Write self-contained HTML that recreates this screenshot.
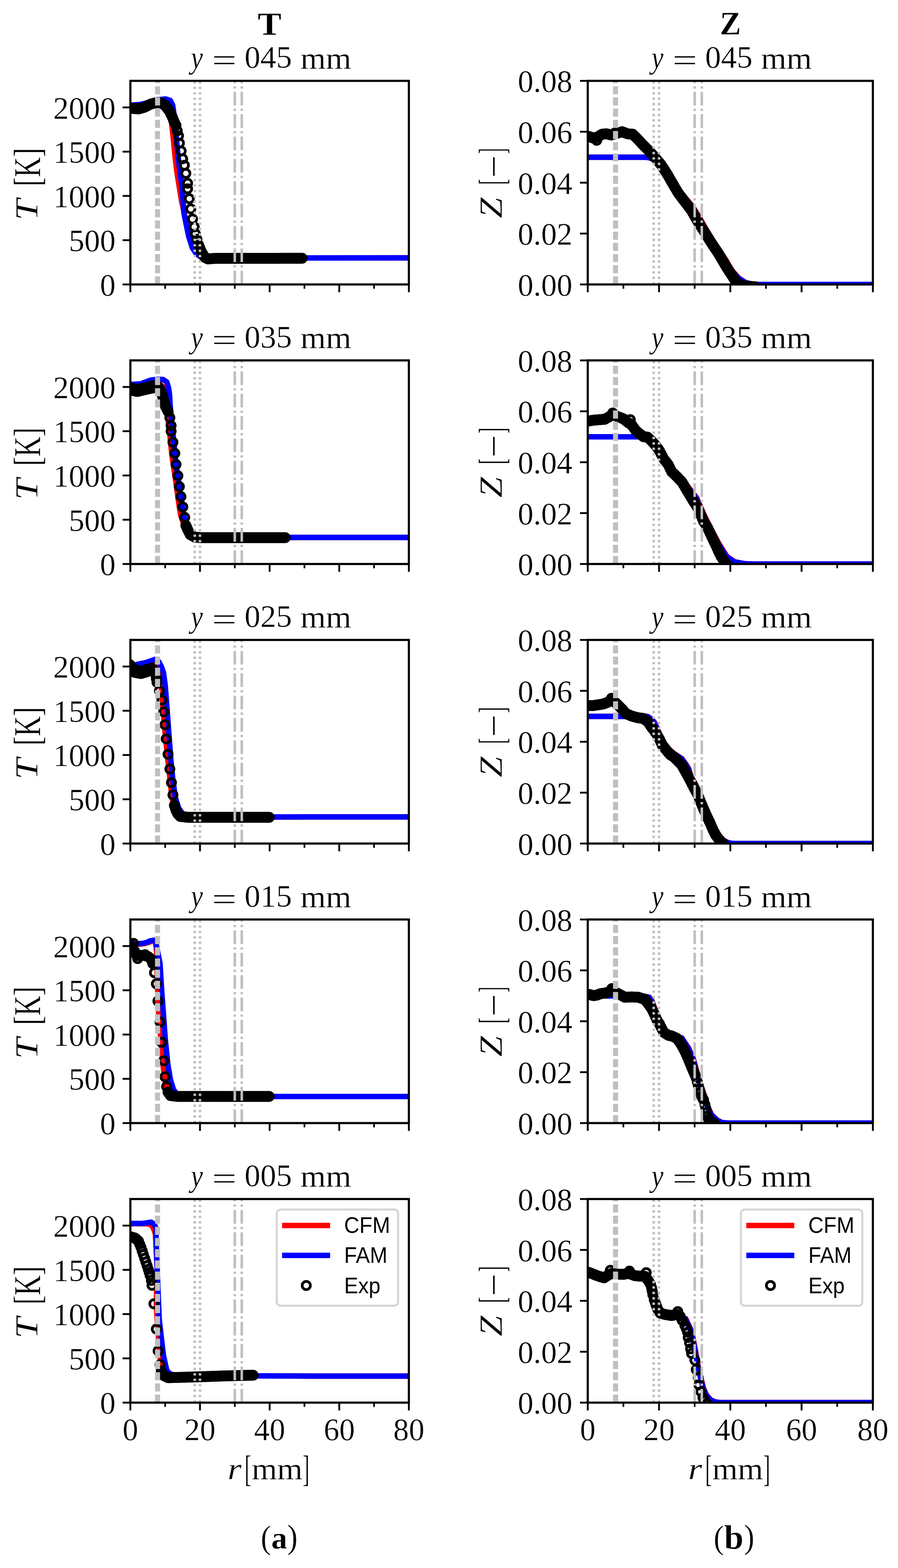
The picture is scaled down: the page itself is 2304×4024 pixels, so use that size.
<!DOCTYPE html><html><head><meta charset="utf-8"><title>T and Z radial profiles</title><style>html,body{margin:0;padding:0;background:#fff;}svg{display:block;}.cm{font-family:"Liberation Serif","DejaVu Serif",serif;stroke:#fff;stroke-width:0.5px;paint-order:fill;}.ss{font-family:"Liberation Sans","DejaVu Sans",sans-serif;}</style></head><body>
<svg width="2304" height="4024" viewBox="0 0 2304 4024">
<rect width="2304" height="4024" fill="#fff"/>
<defs>
<clipPath id="c00"><rect x="334.5" y="207.5" width="714.5" height="522.5"/></clipPath>
<clipPath id="c01"><rect x="334.5" y="924.9" width="714.5" height="522.5000000000001"/></clipPath>
<clipPath id="c02"><rect x="334.5" y="1642.3" width="714.5" height="522.5000000000002"/></clipPath>
<clipPath id="c03"><rect x="334.5" y="2359.7" width="714.5" height="522.5"/></clipPath>
<clipPath id="c04"><rect x="334.5" y="3077.1" width="714.5" height="522.5"/></clipPath>
<clipPath id="c10"><rect x="1508.0" y="207.5" width="731.5" height="522.5"/></clipPath>
<clipPath id="c11"><rect x="1508.0" y="924.9" width="731.5" height="522.5000000000001"/></clipPath>
<clipPath id="c12"><rect x="1508.0" y="1642.3" width="731.5" height="522.5000000000002"/></clipPath>
<clipPath id="c13"><rect x="1508.0" y="2359.7" width="731.5" height="522.5"/></clipPath>
<clipPath id="c14"><rect x="1508.0" y="3077.1" width="731.5" height="522.5"/></clipPath>
</defs>
<g clip-path="url(#c00)">
<path d="M304.5,272 L334.5,272 L380,267 L410,262 L425,265 L432,280 L436,295 L440.5,317.9 L445,359.8 L449.4,404.6 L453.9,441.9 L459.9,479.3 L465.9,516.6 L471.8,542 L478,570 L485,600 L495,630 L510,650 L530,661 L560,662 L1049,661.8 L1079,661.8" fill="none" stroke="#ff0000" stroke-width="14" stroke-linejoin="round" stroke-linecap="butt"/>
<path d="M304.5,270 L334.5,270 L360,268 L385,262 L405,256 L425,254 L437,258 L443,270 L446,290 L449,320 L453,360 L457.4,404.6 L462,441.9 L467,479 L471.8,546.5 L476.3,568.9 L484,606.3 L493.5,636.2 L504,652 L515,659 L530,662 L1049,661.8 L1079,661.8" fill="none" stroke="#0000ff" stroke-width="14" stroke-linejoin="round" stroke-linecap="butt"/>
<g fill="none" stroke="#000" stroke-width="7">
<circle cx="330" cy="277.4" r="10.5"/><circle cx="332.5" cy="277.4" r="10.5"/><circle cx="335.9" cy="277.7" r="10.5"/><circle cx="339.3" cy="278" r="10.5"/><circle cx="342.6" cy="278.4" r="10.5"/><circle cx="345.8" cy="278.7" r="10.5"/><circle cx="349" cy="279" r="10.5"/><circle cx="352.1" cy="279.3" r="10.5"/><circle cx="355.3" cy="279.6" r="10.5"/><circle cx="359.2" cy="278.5" r="10.5"/><circle cx="363.2" cy="277.4" r="10.5"/><circle cx="367.1" cy="276.3" r="10.5"/><circle cx="371.1" cy="275.2" r="10.5"/><circle cx="375" cy="273.1" r="10.5"/><circle cx="379" cy="271.1" r="10.5"/><circle cx="382.9" cy="269" r="10.5"/><circle cx="386.9" cy="267" r="10.5"/><circle cx="390.8" cy="266" r="10.5"/><circle cx="394.8" cy="265.1" r="10.5"/><circle cx="398.7" cy="264.1" r="10.5"/><circle cx="402.7" cy="263.2" r="10.5"/><circle cx="405.8" cy="263.6" r="10.5"/><circle cx="409" cy="264" r="10.5"/><circle cx="412.1" cy="264.4" r="10.5"/><circle cx="415.3" cy="264.8" r="10.5"/><circle cx="418.5" cy="267.2" r="10.5"/><circle cx="421.6" cy="269.6" r="10.5"/><circle cx="424.8" cy="272" r="10.5"/><circle cx="427.9" cy="276.2" r="10.5"/><circle cx="431.1" cy="280.5" r="10.5"/><circle cx="434.3" cy="284.7" r="10.5"/><circle cx="438.2" cy="292.6" r="10.5"/><circle cx="442.2" cy="300.5" r="10.5"/><circle cx="444.8" cy="307.1" r="10.5"/><circle cx="447.5" cy="313.7" r="10.5"/><circle cx="515.6" cy="643.6" r="10.5"/><circle cx="518.6" cy="649.1" r="10.5"/><circle cx="521.6" cy="654.5" r="10.5"/><circle cx="524.6" cy="660" r="10.5"/><circle cx="527.6" cy="661.5" r="10.5"/><circle cx="530.6" cy="663.1" r="10.5"/><circle cx="533.6" cy="664.6" r="10.5"/><circle cx="537.4" cy="664.2" r="10.5"/><circle cx="541.2" cy="663.9" r="10.5"/><circle cx="545" cy="663.5" r="10.5"/><circle cx="548.8" cy="663.4" r="10.5"/><circle cx="552.5" cy="663.2" r="10.5"/><circle cx="556.2" cy="663.1" r="10.5"/><circle cx="560" cy="663" r="10.5"/><circle cx="564" cy="663" r="10.5"/><circle cx="568" cy="663" r="10.5"/><circle cx="571.9" cy="663" r="10.5"/><circle cx="575.9" cy="663" r="10.5"/><circle cx="579.9" cy="663" r="10.5"/><circle cx="583.9" cy="663" r="10.5"/><circle cx="587.9" cy="663" r="10.5"/><circle cx="591.9" cy="663" r="10.5"/><circle cx="595.8" cy="663" r="10.5"/><circle cx="599.8" cy="663" r="10.5"/><circle cx="603.8" cy="663" r="10.5"/><circle cx="607.8" cy="663" r="10.5"/><circle cx="611.8" cy="663" r="10.5"/><circle cx="615.7" cy="662.9" r="10.5"/><circle cx="619.7" cy="662.9" r="10.5"/><circle cx="623.7" cy="662.9" r="10.5"/><circle cx="627.7" cy="662.9" r="10.5"/><circle cx="631.7" cy="662.9" r="10.5"/><circle cx="635.6" cy="662.9" r="10.5"/><circle cx="639.6" cy="662.9" r="10.5"/><circle cx="643.6" cy="662.9" r="10.5"/><circle cx="647.6" cy="662.9" r="10.5"/><circle cx="651.6" cy="662.9" r="10.5"/><circle cx="655.6" cy="662.9" r="10.5"/><circle cx="659.5" cy="662.9" r="10.5"/><circle cx="663.5" cy="662.9" r="10.5"/><circle cx="667.5" cy="662.9" r="10.5"/><circle cx="671.5" cy="662.9" r="10.5"/><circle cx="675.5" cy="662.9" r="10.5"/><circle cx="679.4" cy="662.9" r="10.5"/><circle cx="683.4" cy="662.9" r="10.5"/><circle cx="687.4" cy="662.9" r="10.5"/><circle cx="691.4" cy="662.9" r="10.5"/><circle cx="695.4" cy="662.9" r="10.5"/><circle cx="699.4" cy="662.9" r="10.5"/><circle cx="703.3" cy="662.9" r="10.5"/><circle cx="707.3" cy="662.9" r="10.5"/><circle cx="711.3" cy="662.9" r="10.5"/><circle cx="715.3" cy="662.9" r="10.5"/><circle cx="719.3" cy="662.9" r="10.5"/><circle cx="723.2" cy="662.8" r="10.5"/><circle cx="727.2" cy="662.8" r="10.5"/><circle cx="731.2" cy="662.8" r="10.5"/><circle cx="735.2" cy="662.8" r="10.5"/><circle cx="739.2" cy="662.8" r="10.5"/><circle cx="743.1" cy="662.8" r="10.5"/><circle cx="747.1" cy="662.8" r="10.5"/><circle cx="751.1" cy="662.8" r="10.5"/><circle cx="755.1" cy="662.8" r="10.5"/><circle cx="759.1" cy="662.8" r="10.5"/><circle cx="763.1" cy="662.8" r="10.5"/><circle cx="767" cy="662.8" r="10.5"/><circle cx="771" cy="662.8" r="10.5"/><circle cx="775" cy="662.8" r="10.5"/><circle cx="451.6" cy="321.6" r="10.5"/><circle cx="454.8" cy="335.9" r="10.5"/><circle cx="458" cy="348.5" r="10.5"/><circle cx="460.3" cy="367.2" r="10.5"/><circle cx="464.8" cy="387.4" r="10.5"/><circle cx="468.6" cy="407.6" r="10.5"/><circle cx="473" cy="424" r="10.5"/><circle cx="476.8" cy="444.9" r="10.5"/><circle cx="481.3" cy="470.3" r="10.5"/><circle cx="481.3" cy="484.5" r="10.5"/><circle cx="485.7" cy="509.9" r="10.5"/><circle cx="489.5" cy="536.1" r="10.5"/><circle cx="494" cy="562.2" r="10.5"/><circle cx="498.4" cy="582.4" r="10.5"/><circle cx="501.4" cy="600.3" r="10.5"/><circle cx="505.2" cy="613.8" r="10.5"/><circle cx="509.6" cy="628.7" r="10.5"/><circle cx="512.6" cy="636.2" r="10.5"/>
</g>
<line x1="404.2" y1="730" x2="404.2" y2="207.5" stroke="#bfbfbf" stroke-width="13" stroke-dasharray="20.7 8"/>
<line x1="499.7" y1="730" x2="499.7" y2="207.5" stroke="#bfbfbf" stroke-width="6.5" stroke-dasharray="6 7.93"/>
<line x1="513.1" y1="730" x2="513.1" y2="207.5" stroke="#bfbfbf" stroke-width="6.5" stroke-dasharray="6 7.93"/>
<line x1="602.4" y1="730" x2="602.4" y2="207.5" stroke="#bfbfbf" stroke-width="6.5" stroke-dasharray="35.2 8.2 5.8 8.2"/>
<line x1="620.3" y1="730" x2="620.3" y2="207.5" stroke="#bfbfbf" stroke-width="6.5" stroke-dasharray="35.2 8.2 5.8 8.2"/>
</g>
<rect x="334.5" y="207.5" width="714.5" height="522.5" fill="none" stroke="#000" stroke-width="5.5"/>
<line x1="334.5" y1="730.0" x2="334.5" y2="750.0" stroke="#000" stroke-width="4.7"/><line x1="423.8" y1="730.0" x2="423.8" y2="741.0" stroke="#000" stroke-width="4.3"/><line x1="513.1" y1="730.0" x2="513.1" y2="750.0" stroke="#000" stroke-width="4.7"/><line x1="602.4" y1="730.0" x2="602.4" y2="741.0" stroke="#000" stroke-width="4.3"/><line x1="691.8" y1="730.0" x2="691.8" y2="750.0" stroke="#000" stroke-width="4.7"/><line x1="781.1" y1="730.0" x2="781.1" y2="741.0" stroke="#000" stroke-width="4.3"/><line x1="870.4" y1="730.0" x2="870.4" y2="750.0" stroke="#000" stroke-width="4.7"/><line x1="959.7" y1="730.0" x2="959.7" y2="741.0" stroke="#000" stroke-width="4.3"/><line x1="1049" y1="730.0" x2="1049" y2="750.0" stroke="#000" stroke-width="4.7"/><line x1="334.5" y1="730" x2="314.5" y2="730" stroke="#000" stroke-width="4.7"/><line x1="334.5" y1="616.4" x2="314.5" y2="616.4" stroke="#000" stroke-width="4.7"/><line x1="334.5" y1="502.8" x2="314.5" y2="502.8" stroke="#000" stroke-width="4.7"/><line x1="334.5" y1="389.2" x2="314.5" y2="389.2" stroke="#000" stroke-width="4.7"/><line x1="334.5" y1="275.7" x2="314.5" y2="275.7" stroke="#000" stroke-width="4.7"/>
<g class="cm" font-size="80"><text x="296.5" y="758.8" text-anchor="end">0</text><text x="296.5" y="645.2" text-anchor="end">500</text><text x="296.5" y="531.6" text-anchor="end">1000</text><text x="296.5" y="418" text-anchor="end">1500</text><text x="296.5" y="304.5" text-anchor="end">2000</text></g>
<text class="cm" font-size="80" font-style="italic" transform="translate(489.75,175.294) scale(0.864,0.994)">y</text>
<text class="cm" font-size="80"  transform="translate(543.435,182.38) scale(1.416,1.04)">=</text>
<text class="cm" font-size="80"  transform="translate(627.563,174.493) scale(1.012,1.007)">045</text>
<text class="cm" font-size="80"  transform="translate(770.701,175.5) scale(1.05,0.974)">mm</text>
<text class="cm" font-size="80" font-style="italic" transform="translate(95.8,559.7) rotate(-90) translate(-6.125,0) scale(1.225,1.028)">T</text>
<text class="cm" font-size="80"  transform="translate(95.8,559.7) rotate(-90) translate(81.367,6.95) scale(0.889,1.205)">[K]</text>
<g clip-path="url(#c01)">
<path d="M304.5,989 L330,989 L377.4,984.9 L405.8,981.8 L418.5,992.8 L424.1,1011.8 L427.9,1043.4 L431.1,1075 L434.9,1106.6 L441.2,1169.7 L450.7,1232.9 L457,1280.3 L463.3,1321.4 L469.6,1340.4 L481.6,1362.5 L500.6,1376.7 L519.6,1379.8 L791.3,1379.2 L1079,1379.2" fill="none" stroke="#ff0000" stroke-width="14" stroke-linejoin="round" stroke-linecap="butt"/>
<path d="M304.5,987.1 L330,987.1 L361.6,984.9 L386.9,975.4 L405.8,973.2 L418.5,973.9 L427.9,980.2 L432.7,996 L434.9,1011.8 L436.8,1043.4 L439.9,1075 L443.1,1106.6 L446.3,1138.2 L449.4,1169.7 L453.2,1201.3 L458,1232.9 L462.7,1264.5 L467.4,1296.1 L472.2,1324.6 L478.5,1349.8 L488,1368.8 L500.6,1378.3 L519.6,1379.8 L791.3,1379.2 L1079,1379.2" fill="none" stroke="#0000ff" stroke-width="14" stroke-linejoin="round" stroke-linecap="butt"/>
<g fill="none" stroke="#000" stroke-width="7">
<circle cx="330" cy="997.6" r="10.5"/><circle cx="332.5" cy="997.6" r="10.5"/><circle cx="336.4" cy="998.5" r="10.5"/><circle cx="340.4" cy="999.5" r="10.5"/><circle cx="344.3" cy="1000.4" r="10.5"/><circle cx="348.2" cy="1001.4" r="10.5"/><circle cx="352.1" cy="1002.3" r="10.5"/><circle cx="355.9" cy="1001.4" r="10.5"/><circle cx="359.7" cy="1000.4" r="10.5"/><circle cx="363.5" cy="999.5" r="10.5"/><circle cx="367.3" cy="998.5" r="10.5"/><circle cx="371.1" cy="997.6" r="10.5"/><circle cx="374.8" cy="996.8" r="10.5"/><circle cx="378.4" cy="996" r="10.5"/><circle cx="382.1" cy="995.2" r="10.5"/><circle cx="385.8" cy="994.4" r="10.5"/><circle cx="389.5" cy="993.6" r="10.5"/><circle cx="393.2" cy="992.8" r="10.5"/><circle cx="396.9" cy="992.3" r="10.5"/><circle cx="400.6" cy="991.8" r="10.5"/><circle cx="404.2" cy="991.2" r="10.5"/><circle cx="407.4" cy="995.2" r="10.5"/><circle cx="410.6" cy="999.1" r="10.5"/><circle cx="412.9" cy="1005.5" r="10.5"/><circle cx="415.3" cy="1011.8" r="10.5"/><circle cx="417.7" cy="1019.7" r="10.5"/><circle cx="420" cy="1027.6" r="10.5"/><circle cx="422.4" cy="1035.5" r="10.5"/><circle cx="424.8" cy="1043.4" r="10.5"/><circle cx="427.9" cy="1049.7" r="10.5"/><circle cx="431.1" cy="1056" r="10.5"/><circle cx="330" cy="995.1" r="10.5"/><circle cx="332.5" cy="995.1" r="10.5"/><circle cx="336.4" cy="996" r="10.5"/><circle cx="340.4" cy="997" r="10.5"/><circle cx="344.3" cy="997.9" r="10.5"/><circle cx="348.2" cy="998.9" r="10.5"/><circle cx="352.1" cy="999.8" r="10.5"/><circle cx="355.9" cy="998.9" r="10.5"/><circle cx="359.7" cy="997.9" r="10.5"/><circle cx="363.5" cy="997" r="10.5"/><circle cx="367.3" cy="996" r="10.5"/><circle cx="371.1" cy="995.1" r="10.5"/><circle cx="374.8" cy="994.3" r="10.5"/><circle cx="378.4" cy="993.5" r="10.5"/><circle cx="382.1" cy="992.7" r="10.5"/><circle cx="385.8" cy="991.9" r="10.5"/><circle cx="389.5" cy="991.1" r="10.5"/><circle cx="393.2" cy="990.3" r="10.5"/><circle cx="396.9" cy="989.8" r="10.5"/><circle cx="330" cy="1000.1" r="10.5"/><circle cx="332.5" cy="1000.1" r="10.5"/><circle cx="336.4" cy="1001" r="10.5"/><circle cx="340.4" cy="1002" r="10.5"/><circle cx="344.3" cy="1002.9" r="10.5"/><circle cx="348.2" cy="1003.9" r="10.5"/><circle cx="352.1" cy="1004.8" r="10.5"/><circle cx="355.9" cy="1003.9" r="10.5"/><circle cx="359.7" cy="1002.9" r="10.5"/><circle cx="363.5" cy="1002" r="10.5"/><circle cx="367.3" cy="1001" r="10.5"/><circle cx="371.1" cy="1000.1" r="10.5"/><circle cx="374.8" cy="999.3" r="10.5"/><circle cx="378.4" cy="998.5" r="10.5"/><circle cx="382.1" cy="997.7" r="10.5"/><circle cx="385.8" cy="996.9" r="10.5"/><circle cx="389.5" cy="996.1" r="10.5"/><circle cx="393.2" cy="995.3" r="10.5"/><circle cx="396.9" cy="994.8" r="10.5"/><circle cx="476.9" cy="1348.2" r="10.5"/><circle cx="479.3" cy="1353.8" r="10.5"/><circle cx="481.6" cy="1359.3" r="10.5"/><circle cx="484.8" cy="1365.6" r="10.5"/><circle cx="488" cy="1371.9" r="10.5"/><circle cx="491.1" cy="1373.7" r="10.5"/><circle cx="494.3" cy="1375.4" r="10.5"/><circle cx="497.4" cy="1377.2" r="10.5"/><circle cx="500.6" cy="1378.9" r="10.5"/><circle cx="504.4" cy="1379.1" r="10.5"/><circle cx="508.2" cy="1379.3" r="10.5"/><circle cx="512" cy="1379.5" r="10.5"/><circle cx="515.8" cy="1379.7" r="10.5"/><circle cx="519.6" cy="1379.8" r="10.5"/><circle cx="523.6" cy="1379.8" r="10.5"/><circle cx="527.6" cy="1379.8" r="10.5"/><circle cx="531.6" cy="1379.8" r="10.5"/><circle cx="535.6" cy="1379.8" r="10.5"/><circle cx="539.6" cy="1379.8" r="10.5"/><circle cx="543.6" cy="1379.8" r="10.5"/><circle cx="547.6" cy="1379.8" r="10.5"/><circle cx="551.6" cy="1379.8" r="10.5"/><circle cx="555.6" cy="1379.8" r="10.5"/><circle cx="559.6" cy="1379.8" r="10.5"/><circle cx="563.6" cy="1379.8" r="10.5"/><circle cx="567.6" cy="1379.8" r="10.5"/><circle cx="571.6" cy="1379.8" r="10.5"/><circle cx="575.6" cy="1379.8" r="10.5"/><circle cx="579.6" cy="1379.8" r="10.5"/><circle cx="583.6" cy="1379.8" r="10.5"/><circle cx="587.6" cy="1379.8" r="10.5"/><circle cx="591.6" cy="1379.8" r="10.5"/><circle cx="595.6" cy="1379.8" r="10.5"/><circle cx="599.6" cy="1379.8" r="10.5"/><circle cx="603.6" cy="1379.8" r="10.5"/><circle cx="607.6" cy="1379.8" r="10.5"/><circle cx="611.6" cy="1379.8" r="10.5"/><circle cx="615.6" cy="1379.8" r="10.5"/><circle cx="619.6" cy="1379.8" r="10.5"/><circle cx="623.6" cy="1379.8" r="10.5"/><circle cx="627.6" cy="1379.8" r="10.5"/><circle cx="631.6" cy="1379.8" r="10.5"/><circle cx="635.6" cy="1379.8" r="10.5"/><circle cx="639.6" cy="1379.8" r="10.5"/><circle cx="643.6" cy="1379.8" r="10.5"/><circle cx="647.6" cy="1379.8" r="10.5"/><circle cx="651.6" cy="1379.8" r="10.5"/><circle cx="655.6" cy="1379.8" r="10.5"/><circle cx="659.6" cy="1379.8" r="10.5"/><circle cx="663.6" cy="1379.8" r="10.5"/><circle cx="667.6" cy="1379.8" r="10.5"/><circle cx="671.6" cy="1379.8" r="10.5"/><circle cx="675.6" cy="1379.8" r="10.5"/><circle cx="679.6" cy="1379.8" r="10.5"/><circle cx="683.6" cy="1379.8" r="10.5"/><circle cx="687.6" cy="1379.8" r="10.5"/><circle cx="691.6" cy="1379.8" r="10.5"/><circle cx="695.6" cy="1379.8" r="10.5"/><circle cx="699.6" cy="1379.8" r="10.5"/><circle cx="703.6" cy="1379.8" r="10.5"/><circle cx="707.6" cy="1379.8" r="10.5"/><circle cx="711.6" cy="1379.8" r="10.5"/><circle cx="715.6" cy="1379.8" r="10.5"/><circle cx="719.6" cy="1379.8" r="10.5"/><circle cx="723.6" cy="1379.8" r="10.5"/><circle cx="727.6" cy="1379.8" r="10.5"/><circle cx="731.6" cy="1379.8" r="10.5"/><circle cx="435.8" cy="1071.8" r="10.5"/><circle cx="439" cy="1092.3" r="10.5"/><circle cx="439" cy="1106.6" r="10.5"/><circle cx="443.7" cy="1135" r="10.5"/><circle cx="448.5" cy="1163.4" r="10.5"/><circle cx="451.6" cy="1191.9" r="10.5"/><circle cx="456.4" cy="1220.9" r="10.5"/><circle cx="460.2" cy="1248.7" r="10.5"/><circle cx="464.3" cy="1274.6" r="10.5"/><circle cx="469" cy="1300.9" r="10.5"/><circle cx="473.8" cy="1327.7" r="10.5"/>
</g>
<line x1="404.2" y1="1447.4" x2="404.2" y2="924.9" stroke="#bfbfbf" stroke-width="13" stroke-dasharray="20.7 8"/>
<line x1="499.7" y1="1447.4" x2="499.7" y2="924.9" stroke="#bfbfbf" stroke-width="6.5" stroke-dasharray="6 7.93"/>
<line x1="513.1" y1="1447.4" x2="513.1" y2="924.9" stroke="#bfbfbf" stroke-width="6.5" stroke-dasharray="6 7.93"/>
<line x1="602.4" y1="1447.4" x2="602.4" y2="924.9" stroke="#bfbfbf" stroke-width="6.5" stroke-dasharray="35.2 8.2 5.8 8.2"/>
<line x1="620.3" y1="1447.4" x2="620.3" y2="924.9" stroke="#bfbfbf" stroke-width="6.5" stroke-dasharray="35.2 8.2 5.8 8.2"/>
</g>
<rect x="334.5" y="924.9" width="714.5" height="522.5000000000001" fill="none" stroke="#000" stroke-width="5.5"/>
<line x1="334.5" y1="1447.4" x2="334.5" y2="1467.4" stroke="#000" stroke-width="4.7"/><line x1="423.8" y1="1447.4" x2="423.8" y2="1458.4" stroke="#000" stroke-width="4.3"/><line x1="513.1" y1="1447.4" x2="513.1" y2="1467.4" stroke="#000" stroke-width="4.7"/><line x1="602.4" y1="1447.4" x2="602.4" y2="1458.4" stroke="#000" stroke-width="4.3"/><line x1="691.8" y1="1447.4" x2="691.8" y2="1467.4" stroke="#000" stroke-width="4.7"/><line x1="781.1" y1="1447.4" x2="781.1" y2="1458.4" stroke="#000" stroke-width="4.3"/><line x1="870.4" y1="1447.4" x2="870.4" y2="1467.4" stroke="#000" stroke-width="4.7"/><line x1="959.7" y1="1447.4" x2="959.7" y2="1458.4" stroke="#000" stroke-width="4.3"/><line x1="1049" y1="1447.4" x2="1049" y2="1467.4" stroke="#000" stroke-width="4.7"/><line x1="334.5" y1="1447.4" x2="314.5" y2="1447.4" stroke="#000" stroke-width="4.7"/><line x1="334.5" y1="1333.8" x2="314.5" y2="1333.8" stroke="#000" stroke-width="4.7"/><line x1="334.5" y1="1220.2" x2="314.5" y2="1220.2" stroke="#000" stroke-width="4.7"/><line x1="334.5" y1="1106.6" x2="314.5" y2="1106.6" stroke="#000" stroke-width="4.7"/><line x1="334.5" y1="993.1" x2="314.5" y2="993.1" stroke="#000" stroke-width="4.7"/>
<g class="cm" font-size="80"><text x="296.5" y="1476.2" text-anchor="end">0</text><text x="296.5" y="1362.6" text-anchor="end">500</text><text x="296.5" y="1249" text-anchor="end">1000</text><text x="296.5" y="1135.4" text-anchor="end">1500</text><text x="296.5" y="1021.9" text-anchor="end">2000</text></g>
<text class="cm" font-size="80" font-style="italic" transform="translate(489.75,892.694) scale(0.864,0.994)">y</text>
<text class="cm" font-size="80"  transform="translate(543.435,899.78) scale(1.416,1.04)">=</text>
<text class="cm" font-size="80"  transform="translate(627.563,891.893) scale(1.012,1.007)">035</text>
<text class="cm" font-size="80"  transform="translate(770.701,892.9) scale(1.05,0.974)">mm</text>
<text class="cm" font-size="80" font-style="italic" transform="translate(95.8,1277.1) rotate(-90) translate(-6.125,0) scale(1.225,1.028)">T</text>
<text class="cm" font-size="80"  transform="translate(95.8,1277.1) rotate(-90) translate(81.367,6.95) scale(0.889,1.205)">[K]</text>
<g clip-path="url(#c02)">
<path d="M304.5,1709.8 L330,1709.8 L361.6,1708.2 L393.2,1701.9 L405.8,1703.5 L410.6,1728.8 L412.8,1760.4 L415.9,1792 L418.5,1823.6 L421.6,1855.2 L424.1,1886.7 L427.3,1918.3 L430.5,1949.9 L434.3,1981.5 L437.4,2013.1 L441.2,2044.7 L445.3,2066.8 L453.2,2085.8 L465.9,2095.3 L481.6,2097.5 L791.3,2096.6 L1079,2096.6" fill="none" stroke="#ff0000" stroke-width="14" stroke-linejoin="round" stroke-linecap="butt"/>
<path d="M304.5,1706 L330,1706 L349,1705.7 L374.2,1700.3 L399.5,1691.5 L406.8,1697.2 L413.7,1709.8 L419.4,1725.6 L424.1,1760.4 L428.9,1823.6 L433.6,1886.7 L438.4,1949.9 L443.1,1997.3 L449.4,2044.7 L458,2073.1 L469,2088.9 L481.6,2095.3 L494.3,2096.8 L791.3,2096.6 L1079,2096.6" fill="none" stroke="#0000ff" stroke-width="14" stroke-linejoin="round" stroke-linecap="butt"/>
<g fill="none" stroke="#000" stroke-width="7">
<circle cx="330" cy="1708.2" r="10.5"/><circle cx="332.5" cy="1708.2" r="10.5"/><circle cx="335.8" cy="1711.8" r="10.5"/><circle cx="339.2" cy="1715.4" r="10.5"/><circle cx="342.5" cy="1718.9" r="10.5"/><circle cx="345.8" cy="1722.5" r="10.5"/><circle cx="349.7" cy="1723.3" r="10.5"/><circle cx="353.7" cy="1724" r="10.5"/><circle cx="357.6" cy="1724.8" r="10.5"/><circle cx="361.6" cy="1725.6" r="10.5"/><circle cx="365.5" cy="1724.4" r="10.5"/><circle cx="369.5" cy="1723.3" r="10.5"/><circle cx="373.4" cy="1722.1" r="10.5"/><circle cx="377.4" cy="1720.9" r="10.5"/><circle cx="380.5" cy="1719.3" r="10.5"/><circle cx="383.7" cy="1717.7" r="10.5"/><circle cx="386.9" cy="1716.1" r="10.5"/><circle cx="390" cy="1714.6" r="10.5"/><circle cx="392.4" cy="1717.7" r="10.5"/><circle cx="394.8" cy="1720.9" r="10.5"/><circle cx="397.9" cy="1728.8" r="10.5"/><circle cx="401.1" cy="1741.4" r="10.5"/><circle cx="330" cy="1705.2" r="10.5"/><circle cx="332.5" cy="1705.2" r="10.5"/><circle cx="335.8" cy="1708.8" r="10.5"/><circle cx="339.2" cy="1712.4" r="10.5"/><circle cx="342.5" cy="1715.9" r="10.5"/><circle cx="345.8" cy="1719.5" r="10.5"/><circle cx="349.7" cy="1720.3" r="10.5"/><circle cx="353.7" cy="1721" r="10.5"/><circle cx="357.6" cy="1721.8" r="10.5"/><circle cx="361.6" cy="1722.6" r="10.5"/><circle cx="365.5" cy="1721.4" r="10.5"/><circle cx="369.5" cy="1720.3" r="10.5"/><circle cx="373.4" cy="1719.1" r="10.5"/><circle cx="377.4" cy="1717.9" r="10.5"/><circle cx="330" cy="1711.2" r="10.5"/><circle cx="332.5" cy="1711.2" r="10.5"/><circle cx="335.8" cy="1714.8" r="10.5"/><circle cx="339.2" cy="1718.4" r="10.5"/><circle cx="342.5" cy="1721.9" r="10.5"/><circle cx="345.8" cy="1725.5" r="10.5"/><circle cx="349.7" cy="1726.3" r="10.5"/><circle cx="353.7" cy="1727" r="10.5"/><circle cx="357.6" cy="1727.8" r="10.5"/><circle cx="361.6" cy="1728.6" r="10.5"/><circle cx="365.5" cy="1727.4" r="10.5"/><circle cx="369.5" cy="1726.3" r="10.5"/><circle cx="373.4" cy="1725.1" r="10.5"/><circle cx="377.4" cy="1723.9" r="10.5"/><circle cx="447.5" cy="2066.8" r="10.5"/><circle cx="449.6" cy="2073.1" r="10.5"/><circle cx="451.6" cy="2079.5" r="10.5"/><circle cx="454" cy="2084.2" r="10.5"/><circle cx="456.4" cy="2088.9" r="10.5"/><circle cx="459.5" cy="2092.1" r="10.5"/><circle cx="462.7" cy="2095.3" r="10.5"/><circle cx="466.5" cy="2095.7" r="10.5"/><circle cx="470.3" cy="2096.1" r="10.5"/><circle cx="474.1" cy="2096.6" r="10.5"/><circle cx="477.9" cy="2097" r="10.5"/><circle cx="481.6" cy="2097.5" r="10.5"/><circle cx="485.6" cy="2097.5" r="10.5"/><circle cx="489.5" cy="2097.5" r="10.5"/><circle cx="493.5" cy="2097.5" r="10.5"/><circle cx="497.4" cy="2097.5" r="10.5"/><circle cx="501.3" cy="2097.5" r="10.5"/><circle cx="505.3" cy="2097.5" r="10.5"/><circle cx="509.2" cy="2097.5" r="10.5"/><circle cx="513.2" cy="2097.5" r="10.5"/><circle cx="517.1" cy="2097.5" r="10.5"/><circle cx="521.1" cy="2097.5" r="10.5"/><circle cx="525" cy="2097.5" r="10.5"/><circle cx="528.9" cy="2097.5" r="10.5"/><circle cx="532.9" cy="2097.5" r="10.5"/><circle cx="536.8" cy="2097.5" r="10.5"/><circle cx="540.8" cy="2097.5" r="10.5"/><circle cx="544.7" cy="2097.5" r="10.5"/><circle cx="548.6" cy="2097.5" r="10.5"/><circle cx="552.6" cy="2097.5" r="10.5"/><circle cx="556.5" cy="2097.5" r="10.5"/><circle cx="560.5" cy="2097.5" r="10.5"/><circle cx="564.4" cy="2097.5" r="10.5"/><circle cx="568.3" cy="2097.5" r="10.5"/><circle cx="572.3" cy="2097.5" r="10.5"/><circle cx="576.2" cy="2097.5" r="10.5"/><circle cx="580.2" cy="2097.5" r="10.5"/><circle cx="584.1" cy="2097.5" r="10.5"/><circle cx="588" cy="2097.5" r="10.5"/><circle cx="592" cy="2097.5" r="10.5"/><circle cx="595.9" cy="2097.5" r="10.5"/><circle cx="599.9" cy="2097.5" r="10.5"/><circle cx="603.8" cy="2097.5" r="10.5"/><circle cx="607.7" cy="2097.5" r="10.5"/><circle cx="611.7" cy="2097.5" r="10.5"/><circle cx="615.6" cy="2097.5" r="10.5"/><circle cx="619.6" cy="2097.5" r="10.5"/><circle cx="623.5" cy="2097.5" r="10.5"/><circle cx="627.4" cy="2097.5" r="10.5"/><circle cx="631.4" cy="2097.5" r="10.5"/><circle cx="635.3" cy="2097.5" r="10.5"/><circle cx="639.3" cy="2097.5" r="10.5"/><circle cx="643.2" cy="2097.5" r="10.5"/><circle cx="647.1" cy="2097.5" r="10.5"/><circle cx="651.1" cy="2097.5" r="10.5"/><circle cx="655" cy="2097.5" r="10.5"/><circle cx="659" cy="2097.5" r="10.5"/><circle cx="662.9" cy="2097.5" r="10.5"/><circle cx="666.8" cy="2097.5" r="10.5"/><circle cx="670.8" cy="2097.5" r="10.5"/><circle cx="674.7" cy="2097.5" r="10.5"/><circle cx="678.7" cy="2097.5" r="10.5"/><circle cx="682.6" cy="2097.5" r="10.5"/><circle cx="686.5" cy="2097.5" r="10.5"/><circle cx="690.5" cy="2097.5" r="10.5"/><circle cx="402.7" cy="1750.9" r="10.5"/><circle cx="409" cy="1773" r="10.5"/><circle cx="415.3" cy="1796.7" r="10.5"/><circle cx="420" cy="1826.7" r="10.5"/><circle cx="423.2" cy="1859.9" r="10.5"/><circle cx="426.4" cy="1896.2" r="10.5"/><circle cx="431.1" cy="1935.7" r="10.5"/><circle cx="435.8" cy="1973.6" r="10.5"/><circle cx="439.9" cy="2008.4" r="10.5"/><circle cx="443.7" cy="2040" r="10.5"/>
</g>
<line x1="404.2" y1="2164.8" x2="404.2" y2="1642.3" stroke="#bfbfbf" stroke-width="13" stroke-dasharray="20.7 8"/>
<line x1="499.7" y1="2164.8" x2="499.7" y2="1642.3" stroke="#bfbfbf" stroke-width="6.5" stroke-dasharray="6 7.93"/>
<line x1="513.1" y1="2164.8" x2="513.1" y2="1642.3" stroke="#bfbfbf" stroke-width="6.5" stroke-dasharray="6 7.93"/>
<line x1="602.4" y1="2164.8" x2="602.4" y2="1642.3" stroke="#bfbfbf" stroke-width="6.5" stroke-dasharray="35.2 8.2 5.8 8.2"/>
<line x1="620.3" y1="2164.8" x2="620.3" y2="1642.3" stroke="#bfbfbf" stroke-width="6.5" stroke-dasharray="35.2 8.2 5.8 8.2"/>
</g>
<rect x="334.5" y="1642.3" width="714.5" height="522.5000000000002" fill="none" stroke="#000" stroke-width="5.5"/>
<line x1="334.5" y1="2164.8" x2="334.5" y2="2184.8" stroke="#000" stroke-width="4.7"/><line x1="423.8" y1="2164.8" x2="423.8" y2="2175.8" stroke="#000" stroke-width="4.3"/><line x1="513.1" y1="2164.8" x2="513.1" y2="2184.8" stroke="#000" stroke-width="4.7"/><line x1="602.4" y1="2164.8" x2="602.4" y2="2175.8" stroke="#000" stroke-width="4.3"/><line x1="691.8" y1="2164.8" x2="691.8" y2="2184.8" stroke="#000" stroke-width="4.7"/><line x1="781.1" y1="2164.8" x2="781.1" y2="2175.8" stroke="#000" stroke-width="4.3"/><line x1="870.4" y1="2164.8" x2="870.4" y2="2184.8" stroke="#000" stroke-width="4.7"/><line x1="959.7" y1="2164.8" x2="959.7" y2="2175.8" stroke="#000" stroke-width="4.3"/><line x1="1049" y1="2164.8" x2="1049" y2="2184.8" stroke="#000" stroke-width="4.7"/><line x1="334.5" y1="2164.8" x2="314.5" y2="2164.8" stroke="#000" stroke-width="4.7"/><line x1="334.5" y1="2051.2" x2="314.5" y2="2051.2" stroke="#000" stroke-width="4.7"/><line x1="334.5" y1="1937.6" x2="314.5" y2="1937.6" stroke="#000" stroke-width="4.7"/><line x1="334.5" y1="1824" x2="314.5" y2="1824" stroke="#000" stroke-width="4.7"/><line x1="334.5" y1="1710.5" x2="314.5" y2="1710.5" stroke="#000" stroke-width="4.7"/>
<g class="cm" font-size="80"><text x="296.5" y="2193.6" text-anchor="end">0</text><text x="296.5" y="2080" text-anchor="end">500</text><text x="296.5" y="1966.4" text-anchor="end">1000</text><text x="296.5" y="1852.8" text-anchor="end">1500</text><text x="296.5" y="1739.3" text-anchor="end">2000</text></g>
<text class="cm" font-size="80" font-style="italic" transform="translate(489.75,1610.094) scale(0.864,0.994)">y</text>
<text class="cm" font-size="80"  transform="translate(543.435,1617.18) scale(1.416,1.04)">=</text>
<text class="cm" font-size="80"  transform="translate(627.563,1609.293) scale(1.012,1.007)">025</text>
<text class="cm" font-size="80"  transform="translate(770.701,1610.3) scale(1.05,0.974)">mm</text>
<text class="cm" font-size="80" font-style="italic" transform="translate(95.8,1994.5) rotate(-90) translate(-6.125,0) scale(1.225,1.028)">T</text>
<text class="cm" font-size="80"  transform="translate(95.8,1994.5) rotate(-90) translate(81.367,6.95) scale(0.889,1.205)">[K]</text>
<g clip-path="url(#c03)">
<path d="M304.5,2423.5 L330,2423.5 L360.9,2422.7 L371.2,2421.6 L381.5,2418.5 L391.8,2414.5 L398.5,2414 L400.9,2433.3 L402.5,2450.8 L403,2480 L403.5,2510 L404.5,2540.6 L407.4,2603.7 L412.8,2666.9 L417.8,2730.1 L424.8,2783.8 L434.3,2802.8 L450.1,2812.3 L462.7,2813.8 L791.3,2814 L1079,2814" fill="none" stroke="#ff0000" stroke-width="14" stroke-linejoin="round" stroke-linecap="butt"/>
<path d="M304.5,2422.5 L330,2422.5 L349.6,2422.2 L366,2421 L376.4,2418.6 L385.6,2414.5 L395,2413 L399,2416 L401,2424 L404.4,2441.5 L410.6,2472.4 L414.7,2540 L419.4,2603.7 L424.1,2666.9 L430.5,2730.1 L437.4,2771.2 L445.3,2796.5 L456.4,2810.7 L469,2813.8 L791.3,2814 L1079,2814" fill="none" stroke="#0000ff" stroke-width="14" stroke-linejoin="round" stroke-linecap="butt"/>
<g fill="none" stroke="#000" stroke-width="7">
<circle cx="330" cy="2422.1" r="10.5"/><circle cx="332.5" cy="2422.1" r="10.5"/><circle cx="336" cy="2427.6" r="10.5"/><circle cx="339.5" cy="2433.1" r="10.5"/><circle cx="342.6" cy="2439.5" r="10.5"/><circle cx="345.8" cy="2445.8" r="10.5"/><circle cx="349" cy="2448.9" r="10.5"/><circle cx="352.1" cy="2452.1" r="10.5"/><circle cx="355.3" cy="2452.1" r="10.5"/><circle cx="358.4" cy="2452.1" r="10.5"/><circle cx="361.6" cy="2452.1" r="10.5"/><circle cx="364.8" cy="2451.9" r="10.5"/><circle cx="367.9" cy="2451.7" r="10.5"/><circle cx="371.1" cy="2451.5" r="10.5"/><circle cx="374.2" cy="2452.7" r="10.5"/><circle cx="377.4" cy="2454" r="10.5"/><circle cx="380.5" cy="2455.3" r="10.5"/><circle cx="384.5" cy="2458.4" r="10.5"/><circle cx="388.4" cy="2461.6" r="10.5"/><circle cx="390.8" cy="2467.9" r="10.5"/><circle cx="393.2" cy="2474.2" r="10.5"/><circle cx="427.3" cy="2788.6" r="10.5"/><circle cx="431.1" cy="2802.8" r="10.5"/><circle cx="434.3" cy="2807.2" r="10.5"/><circle cx="437.4" cy="2811.6" r="10.5"/><circle cx="441.2" cy="2812.1" r="10.5"/><circle cx="445" cy="2812.5" r="10.5"/><circle cx="448.8" cy="2813" r="10.5"/><circle cx="452.6" cy="2813.4" r="10.5"/><circle cx="456.4" cy="2813.8" r="10.5"/><circle cx="460.3" cy="2813.8" r="10.5"/><circle cx="464.3" cy="2813.8" r="10.5"/><circle cx="468.3" cy="2813.8" r="10.5"/><circle cx="472.2" cy="2813.8" r="10.5"/><circle cx="476.2" cy="2813.8" r="10.5"/><circle cx="480.2" cy="2813.8" r="10.5"/><circle cx="484.1" cy="2813.8" r="10.5"/><circle cx="488.1" cy="2813.8" r="10.5"/><circle cx="492.1" cy="2813.8" r="10.5"/><circle cx="496.1" cy="2813.8" r="10.5"/><circle cx="500" cy="2813.8" r="10.5"/><circle cx="504" cy="2813.8" r="10.5"/><circle cx="508" cy="2813.8" r="10.5"/><circle cx="511.9" cy="2813.8" r="10.5"/><circle cx="515.9" cy="2813.8" r="10.5"/><circle cx="519.9" cy="2813.8" r="10.5"/><circle cx="523.8" cy="2813.8" r="10.5"/><circle cx="527.8" cy="2813.8" r="10.5"/><circle cx="531.8" cy="2813.8" r="10.5"/><circle cx="535.7" cy="2813.8" r="10.5"/><circle cx="539.7" cy="2813.8" r="10.5"/><circle cx="543.7" cy="2813.8" r="10.5"/><circle cx="547.6" cy="2813.8" r="10.5"/><circle cx="551.6" cy="2813.8" r="10.5"/><circle cx="555.6" cy="2813.8" r="10.5"/><circle cx="559.5" cy="2813.8" r="10.5"/><circle cx="563.5" cy="2813.8" r="10.5"/><circle cx="567.5" cy="2813.8" r="10.5"/><circle cx="571.4" cy="2813.8" r="10.5"/><circle cx="575.4" cy="2813.8" r="10.5"/><circle cx="579.4" cy="2813.8" r="10.5"/><circle cx="583.3" cy="2813.8" r="10.5"/><circle cx="587.3" cy="2813.8" r="10.5"/><circle cx="591.3" cy="2813.8" r="10.5"/><circle cx="595.3" cy="2813.8" r="10.5"/><circle cx="599.2" cy="2813.8" r="10.5"/><circle cx="603.2" cy="2813.8" r="10.5"/><circle cx="607.2" cy="2813.8" r="10.5"/><circle cx="611.1" cy="2813.8" r="10.5"/><circle cx="615.1" cy="2813.8" r="10.5"/><circle cx="619.1" cy="2813.8" r="10.5"/><circle cx="623" cy="2813.8" r="10.5"/><circle cx="627" cy="2813.8" r="10.5"/><circle cx="631" cy="2813.8" r="10.5"/><circle cx="634.9" cy="2813.8" r="10.5"/><circle cx="638.9" cy="2813.8" r="10.5"/><circle cx="642.9" cy="2813.8" r="10.5"/><circle cx="646.8" cy="2813.8" r="10.5"/><circle cx="650.8" cy="2813.8" r="10.5"/><circle cx="654.8" cy="2813.8" r="10.5"/><circle cx="658.7" cy="2813.8" r="10.5"/><circle cx="662.7" cy="2813.8" r="10.5"/><circle cx="666.7" cy="2813.8" r="10.5"/><circle cx="670.6" cy="2813.8" r="10.5"/><circle cx="674.6" cy="2813.8" r="10.5"/><circle cx="678.6" cy="2813.8" r="10.5"/><circle cx="682.5" cy="2813.8" r="10.5"/><circle cx="686.5" cy="2813.8" r="10.5"/><circle cx="690.5" cy="2813.8" r="10.5"/><circle cx="396.3" cy="2496.3" r="10.5"/><circle cx="401.1" cy="2524.8" r="10.5"/><circle cx="405.2" cy="2569" r="10.5"/><circle cx="410.6" cy="2622.7" r="10.5"/><circle cx="414.7" cy="2674.8" r="10.5"/><circle cx="420" cy="2722.2" r="10.5"/><circle cx="423.2" cy="2763.3" r="10.5"/><circle cx="342.4" cy="2420.9" r="10.5"/><circle cx="338" cy="2432" r="10.5"/><circle cx="345" cy="2441" r="10.5"/><circle cx="353.2" cy="2460" r="10.5"/><circle cx="391.8" cy="2472.4" r="10.5"/><circle cx="372" cy="2450" r="10.5"/>
</g>
<line x1="404.2" y1="2882.2" x2="404.2" y2="2359.7" stroke="#bfbfbf" stroke-width="13" stroke-dasharray="20.7 8"/>
<line x1="499.7" y1="2882.2" x2="499.7" y2="2359.7" stroke="#bfbfbf" stroke-width="6.5" stroke-dasharray="6 7.93"/>
<line x1="513.1" y1="2882.2" x2="513.1" y2="2359.7" stroke="#bfbfbf" stroke-width="6.5" stroke-dasharray="6 7.93"/>
<line x1="602.4" y1="2882.2" x2="602.4" y2="2359.7" stroke="#bfbfbf" stroke-width="6.5" stroke-dasharray="35.2 8.2 5.8 8.2"/>
<line x1="620.3" y1="2882.2" x2="620.3" y2="2359.7" stroke="#bfbfbf" stroke-width="6.5" stroke-dasharray="35.2 8.2 5.8 8.2"/>
</g>
<rect x="334.5" y="2359.7" width="714.5" height="522.5" fill="none" stroke="#000" stroke-width="5.5"/>
<line x1="334.5" y1="2882.2" x2="334.5" y2="2902.2" stroke="#000" stroke-width="4.7"/><line x1="423.8" y1="2882.2" x2="423.8" y2="2893.2" stroke="#000" stroke-width="4.3"/><line x1="513.1" y1="2882.2" x2="513.1" y2="2902.2" stroke="#000" stroke-width="4.7"/><line x1="602.4" y1="2882.2" x2="602.4" y2="2893.2" stroke="#000" stroke-width="4.3"/><line x1="691.8" y1="2882.2" x2="691.8" y2="2902.2" stroke="#000" stroke-width="4.7"/><line x1="781.1" y1="2882.2" x2="781.1" y2="2893.2" stroke="#000" stroke-width="4.3"/><line x1="870.4" y1="2882.2" x2="870.4" y2="2902.2" stroke="#000" stroke-width="4.7"/><line x1="959.7" y1="2882.2" x2="959.7" y2="2893.2" stroke="#000" stroke-width="4.3"/><line x1="1049" y1="2882.2" x2="1049" y2="2902.2" stroke="#000" stroke-width="4.7"/><line x1="334.5" y1="2882.2" x2="314.5" y2="2882.2" stroke="#000" stroke-width="4.7"/><line x1="334.5" y1="2768.6" x2="314.5" y2="2768.6" stroke="#000" stroke-width="4.7"/><line x1="334.5" y1="2655" x2="314.5" y2="2655" stroke="#000" stroke-width="4.7"/><line x1="334.5" y1="2541.4" x2="314.5" y2="2541.4" stroke="#000" stroke-width="4.7"/><line x1="334.5" y1="2427.9" x2="314.5" y2="2427.9" stroke="#000" stroke-width="4.7"/>
<g class="cm" font-size="80"><text x="296.5" y="2911" text-anchor="end">0</text><text x="296.5" y="2797.4" text-anchor="end">500</text><text x="296.5" y="2683.8" text-anchor="end">1000</text><text x="296.5" y="2570.2" text-anchor="end">1500</text><text x="296.5" y="2456.7" text-anchor="end">2000</text></g>
<text class="cm" font-size="80" font-style="italic" transform="translate(489.75,2327.494) scale(0.864,0.994)">y</text>
<text class="cm" font-size="80"  transform="translate(543.435,2334.58) scale(1.416,1.04)">=</text>
<text class="cm" font-size="80"  transform="translate(627.563,2326.693) scale(1.012,1.007)">015</text>
<text class="cm" font-size="80"  transform="translate(770.701,2327.7) scale(1.05,0.974)">mm</text>
<text class="cm" font-size="80" font-style="italic" transform="translate(95.8,2711.9) rotate(-90) translate(-6.125,0) scale(1.225,1.028)">T</text>
<text class="cm" font-size="80"  transform="translate(95.8,2711.9) rotate(-90) translate(81.367,6.95) scale(0.889,1.205)">[K]</text>
<g clip-path="url(#c04)">
<path d="M304.5,3140.5 L330,3140.5 L375,3140.5 L385,3142 L391,3148 L394.7,3154.6 L398.8,3167 L400.9,3208 L402.9,3250 L401.1,3352.3 L404.2,3399.7 L407.4,3447.1 L412.8,3504 L421.6,3526.1 L434.3,3530.2 L791.3,3531.4 L1079,3531.4" fill="none" stroke="#ff0000" stroke-width="14" stroke-linejoin="round" stroke-linecap="butt"/>
<path d="M304.5,3139.9 L330,3139.9 L368,3139.5 L378.4,3137.8 L387.7,3136.4 L395,3141 L399.5,3150 L400.5,3170 L401.5,3210 L403,3250 L408.4,3383.9 L413.7,3431.3 L419.4,3478.7 L427.9,3516.6 L434.3,3524.5 L450.1,3530.2 L791.3,3531.4 L1079,3531.4" fill="none" stroke="#0000ff" stroke-width="14" stroke-linejoin="round" stroke-linecap="butt"/>
<g fill="none" stroke="#000" stroke-width="7">
<circle cx="330" cy="3173.8" r="10.5"/><circle cx="333.2" cy="3173.8" r="10.5"/><circle cx="336.3" cy="3174.6" r="10.5"/><circle cx="339.5" cy="3175.4" r="10.5"/><circle cx="342.6" cy="3176.2" r="10.5"/><circle cx="345.8" cy="3177" r="10.5"/><circle cx="349" cy="3179.6" r="10.5"/><circle cx="352.1" cy="3182.3" r="10.5"/><circle cx="355.3" cy="3184.9" r="10.5"/><circle cx="358.4" cy="3192.8" r="10.5"/><circle cx="361.6" cy="3200.7" r="10.5"/><circle cx="364.8" cy="3210.2" r="10.5"/><circle cx="367.9" cy="3219.6" r="10.5"/><circle cx="371.1" cy="3229.1" r="10.5"/><circle cx="374.2" cy="3238.6" r="10.5"/><circle cx="377.4" cy="3248.1" r="10.5"/><circle cx="380.5" cy="3257.6" r="10.5"/><circle cx="382.9" cy="3265.5" r="10.5"/><circle cx="385.3" cy="3273.4" r="10.5"/><circle cx="388.4" cy="3286" r="10.5"/><circle cx="413.7" cy="3518.2" r="10.5"/><circle cx="416.1" cy="3523.7" r="10.5"/><circle cx="418.5" cy="3529.3" r="10.5"/><circle cx="421.6" cy="3530.8" r="10.5"/><circle cx="424.8" cy="3532.4" r="10.5"/><circle cx="427.9" cy="3534" r="10.5"/><circle cx="431.1" cy="3535.6" r="10.5"/><circle cx="434.7" cy="3535.5" r="10.5"/><circle cx="438.3" cy="3535.4" r="10.5"/><circle cx="441.9" cy="3535.3" r="10.5"/><circle cx="445.5" cy="3535.2" r="10.5"/><circle cx="449.2" cy="3535.1" r="10.5"/><circle cx="452.8" cy="3535" r="10.5"/><circle cx="456.4" cy="3535" r="10.5"/><circle cx="460.3" cy="3534.8" r="10.5"/><circle cx="464.3" cy="3534.7" r="10.5"/><circle cx="468.2" cy="3534.6" r="10.5"/><circle cx="472.2" cy="3534.5" r="10.5"/><circle cx="476.1" cy="3534.4" r="10.5"/><circle cx="480.1" cy="3534.2" r="10.5"/><circle cx="484" cy="3534.1" r="10.5"/><circle cx="488" cy="3534" r="10.5"/><circle cx="491.9" cy="3533.9" r="10.5"/><circle cx="495.9" cy="3533.8" r="10.5"/><circle cx="499.8" cy="3533.6" r="10.5"/><circle cx="503.8" cy="3533.5" r="10.5"/><circle cx="507.7" cy="3533.4" r="10.5"/><circle cx="511.7" cy="3533.3" r="10.5"/><circle cx="515.6" cy="3533.2" r="10.5"/><circle cx="519.6" cy="3533.1" r="10.5"/><circle cx="523.5" cy="3532.9" r="10.5"/><circle cx="527.5" cy="3532.8" r="10.5"/><circle cx="531.4" cy="3532.6" r="10.5"/><circle cx="535.4" cy="3532.5" r="10.5"/><circle cx="539.3" cy="3532.4" r="10.5"/><circle cx="543.3" cy="3532.2" r="10.5"/><circle cx="547.2" cy="3532.1" r="10.5"/><circle cx="551.2" cy="3531.9" r="10.5"/><circle cx="555.1" cy="3531.8" r="10.5"/><circle cx="559.1" cy="3531.7" r="10.5"/><circle cx="563" cy="3531.5" r="10.5"/><circle cx="567" cy="3531.4" r="10.5"/><circle cx="570.9" cy="3531.3" r="10.5"/><circle cx="574.8" cy="3531.1" r="10.5"/><circle cx="578.8" cy="3531" r="10.5"/><circle cx="582.7" cy="3530.8" r="10.5"/><circle cx="586.7" cy="3530.8" r="10.5"/><circle cx="590.6" cy="3530.7" r="10.5"/><circle cx="594.5" cy="3530.6" r="10.5"/><circle cx="598.4" cy="3530.5" r="10.5"/><circle cx="602.4" cy="3530.4" r="10.5"/><circle cx="606.3" cy="3530.3" r="10.5"/><circle cx="610.2" cy="3530.2" r="10.5"/><circle cx="614.1" cy="3530.1" r="10.5"/><circle cx="618" cy="3530" r="10.5"/><circle cx="622" cy="3529.9" r="10.5"/><circle cx="625.9" cy="3529.8" r="10.5"/><circle cx="629.8" cy="3529.7" r="10.5"/><circle cx="633.7" cy="3529.6" r="10.5"/><circle cx="637.6" cy="3529.5" r="10.5"/><circle cx="641.6" cy="3529.4" r="10.5"/><circle cx="645.5" cy="3529.4" r="10.5"/><circle cx="649.4" cy="3529.3" r="10.5"/><circle cx="390" cy="3298.6" r="10.5"/><circle cx="394.8" cy="3346" r="10.5"/><circle cx="401.1" cy="3410.8" r="10.5"/><circle cx="405.8" cy="3466.7" r="10.5"/><circle cx="410.6" cy="3502.4" r="10.5"/>
</g>
<line x1="404.2" y1="3599.6" x2="404.2" y2="3077.1" stroke="#bfbfbf" stroke-width="13" stroke-dasharray="20.7 8"/>
<line x1="499.7" y1="3599.6" x2="499.7" y2="3077.1" stroke="#bfbfbf" stroke-width="6.5" stroke-dasharray="6 7.93"/>
<line x1="513.1" y1="3599.6" x2="513.1" y2="3077.1" stroke="#bfbfbf" stroke-width="6.5" stroke-dasharray="6 7.93"/>
<line x1="602.4" y1="3599.6" x2="602.4" y2="3077.1" stroke="#bfbfbf" stroke-width="6.5" stroke-dasharray="35.2 8.2 5.8 8.2"/>
<line x1="620.3" y1="3599.6" x2="620.3" y2="3077.1" stroke="#bfbfbf" stroke-width="6.5" stroke-dasharray="35.2 8.2 5.8 8.2"/>
</g>
<rect x="334.5" y="3077.1" width="714.5" height="522.5" fill="none" stroke="#000" stroke-width="5.5"/>
<line x1="334.5" y1="3599.6" x2="334.5" y2="3619.6" stroke="#000" stroke-width="4.7"/><line x1="423.8" y1="3599.6" x2="423.8" y2="3610.6" stroke="#000" stroke-width="4.3"/><line x1="513.1" y1="3599.6" x2="513.1" y2="3619.6" stroke="#000" stroke-width="4.7"/><line x1="602.4" y1="3599.6" x2="602.4" y2="3610.6" stroke="#000" stroke-width="4.3"/><line x1="691.8" y1="3599.6" x2="691.8" y2="3619.6" stroke="#000" stroke-width="4.7"/><line x1="781.1" y1="3599.6" x2="781.1" y2="3610.6" stroke="#000" stroke-width="4.3"/><line x1="870.4" y1="3599.6" x2="870.4" y2="3619.6" stroke="#000" stroke-width="4.7"/><line x1="959.7" y1="3599.6" x2="959.7" y2="3610.6" stroke="#000" stroke-width="4.3"/><line x1="1049" y1="3599.6" x2="1049" y2="3619.6" stroke="#000" stroke-width="4.7"/><line x1="334.5" y1="3599.6" x2="314.5" y2="3599.6" stroke="#000" stroke-width="4.7"/><line x1="334.5" y1="3486" x2="314.5" y2="3486" stroke="#000" stroke-width="4.7"/><line x1="334.5" y1="3372.4" x2="314.5" y2="3372.4" stroke="#000" stroke-width="4.7"/><line x1="334.5" y1="3258.8" x2="314.5" y2="3258.8" stroke="#000" stroke-width="4.7"/><line x1="334.5" y1="3145.3" x2="314.5" y2="3145.3" stroke="#000" stroke-width="4.7"/>
<g class="cm" font-size="80"><text x="296.5" y="3628.4" text-anchor="end">0</text><text x="296.5" y="3514.8" text-anchor="end">500</text><text x="296.5" y="3401.2" text-anchor="end">1000</text><text x="296.5" y="3287.6" text-anchor="end">1500</text><text x="296.5" y="3174.1" text-anchor="end">2000</text></g>
<text class="cm" font-size="80" font-style="italic" transform="translate(489.75,3044.894) scale(0.864,0.994)">y</text>
<text class="cm" font-size="80"  transform="translate(543.435,3051.98) scale(1.416,1.04)">=</text>
<text class="cm" font-size="80"  transform="translate(627.563,3044.093) scale(1.012,1.007)">005</text>
<text class="cm" font-size="80"  transform="translate(770.701,3045.1) scale(1.05,0.974)">mm</text>
<text class="cm" font-size="80" font-style="italic" transform="translate(95.8,3429.3) rotate(-90) translate(-6.125,0) scale(1.225,1.028)">T</text>
<text class="cm" font-size="80"  transform="translate(95.8,3429.3) rotate(-90) translate(81.367,6.95) scale(0.889,1.205)">[K]</text>
<text class="cm" font-size="80" font-weight="bold" transform="translate(661.053,88.9) scale(1.147,1.032)">T</text>
<g class="cm" font-size="80"><text x="334.5" y="3696.1" text-anchor="middle">0</text><text x="513.1" y="3696.1" text-anchor="middle">20</text><text x="691.8" y="3696.1" text-anchor="middle">40</text><text x="870.4" y="3696.1" text-anchor="middle">60</text><text x="1049" y="3696.1" text-anchor="middle">80</text></g>
<text class="cm" font-size="80" font-style="italic" transform="translate(583.961,3795.6) scale(1.146,0.989)">r</text>
<text class="cm" font-size="80"  transform="translate(627.433,3800.617) scale(0.644,1.189)">[</text>
<text class="cm" font-size="80"  transform="translate(645.702,3795.6) scale(1.049,0.989)">mm</text>
<text class="cm" font-size="80"  transform="translate(776.867,3800.617) scale(0.644,1.189)">]</text>
<rect x="710" y="3103.9" width="311.4" height="247" rx="10" fill="#fff" stroke="#d6d6d6" stroke-width="5.5"/>
<line x1="723.8" y1="3144.9" x2="847" y2="3144.9" stroke="#ff0000" stroke-width="14"/>
<line x1="723.8" y1="3221.7" x2="847" y2="3221.7" stroke="#0000ff" stroke-width="14"/>
<circle cx="785.8" cy="3299" r="10.5" fill="none" stroke="#000" stroke-width="7"/>
<text class="ss" font-size="54"  transform="translate(882.665,3163.9) scale(1.012,1.046)">CFM</text>
<text class="ss" font-size="54"  transform="translate(883.004,3241.4) scale(0.999,1.046)">FAM</text>
<text class="ss" font-size="54"  transform="translate(882.995,3318.658) scale(1.001,1.058)">Exp</text>
<g clip-path="url(#c10)">
<path d="M1478,403.4 L1509.5,403.4 L1653.5,403.4 L1665.5,404.5 L1675.5,407.5 L1687.5,414 L1701.5,426 L1715.5,445 L1741.9,488 L1758.7,508 L1775.8,528 L1793,555 L1810.2,586 L1827.4,614 L1844.5,640 L1861.7,666 L1878.9,695 L1896,714 L1913.2,725 L1930.4,729 L1947.5,730 L2269.5,730" fill="none" stroke="#ff0000" stroke-width="14" stroke-linejoin="round" stroke-linecap="butt"/>
<path d="M1478,403.4 L1508,403.4 L1652,403.4 L1664,404.5 L1674,407.5 L1686,414 L1700,426 L1714,445 L1740.4,488 L1757.2,508 L1774.3,528 L1791.5,555 L1808.7,586 L1825.9,614 L1843,640 L1860.2,666 L1877.4,695 L1894.5,714 L1911.7,725 L1928.9,729 L1946,730 L2269.5,730" fill="none" stroke="#0000ff" stroke-width="14" stroke-linejoin="round" stroke-linecap="butt"/>
<g fill="none" stroke="#000" stroke-width="7">
<circle cx="1500" cy="350" r="10.5"/><circle cx="1503.4" cy="350" r="10.5"/><circle cx="1506.9" cy="350.1" r="10.5"/><circle cx="1510.3" cy="350.1" r="10.5"/><circle cx="1514.3" cy="351.5" r="10.5"/><circle cx="1518.3" cy="353" r="10.5"/><circle cx="1522.3" cy="354.4" r="10.5"/><circle cx="1525.7" cy="353.6" r="10.5"/><circle cx="1529.2" cy="352.7" r="10.5"/><circle cx="1532.6" cy="351.9" r="10.5"/><circle cx="1536.6" cy="349.5" r="10.5"/><circle cx="1540.6" cy="347" r="10.5"/><circle cx="1544.6" cy="344.6" r="10.5"/><circle cx="1548" cy="344.2" r="10.5"/><circle cx="1551.5" cy="343.7" r="10.5"/><circle cx="1554.9" cy="343.3" r="10.5"/><circle cx="1558.4" cy="344.1" r="10.5"/><circle cx="1561.8" cy="344.9" r="10.5"/><circle cx="1565.2" cy="345.6" r="10.5"/><circle cx="1568.7" cy="346.4" r="10.5"/><circle cx="1572.7" cy="345.1" r="10.5"/><circle cx="1576.7" cy="343.9" r="10.5"/><circle cx="1580.7" cy="342.6" r="10.5"/><circle cx="1584.6" cy="341.5" r="10.5"/><circle cx="1588.5" cy="340.4" r="10.5"/><circle cx="1592.3" cy="339.2" r="10.5"/><circle cx="1596.2" cy="338.1" r="10.5"/><circle cx="1599.6" cy="339.4" r="10.5"/><circle cx="1603.1" cy="340.8" r="10.5"/><circle cx="1606.5" cy="342.1" r="10.5"/><circle cx="1609.9" cy="343.4" r="10.5"/><circle cx="1613.3" cy="343.7" r="10.5"/><circle cx="1616.8" cy="344" r="10.5"/><circle cx="1620.2" cy="344.3" r="10.5"/><circle cx="1623.6" cy="344.6" r="10.5"/><circle cx="1627" cy="348.1" r="10.5"/><circle cx="1630.5" cy="351.5" r="10.5"/><circle cx="1634" cy="354.9" r="10.5"/><circle cx="1637.4" cy="358.4" r="10.5"/><circle cx="1641.4" cy="362.7" r="10.5"/><circle cx="1645.4" cy="367.1" r="10.5"/><circle cx="1649.4" cy="371.4" r="10.5"/><circle cx="1653.2" cy="375.3" r="10.5"/><circle cx="1657.1" cy="379.1" r="10.5"/><circle cx="1661" cy="383" r="10.5"/><circle cx="1664.8" cy="386.9" r="10.5"/><circle cx="1668.2" cy="390.6" r="10.5"/><circle cx="1671.7" cy="394.2" r="10.5"/><circle cx="1675.1" cy="397.9" r="10.5"/><circle cx="1678.5" cy="402" r="10.5"/><circle cx="1682" cy="406" r="10.5"/><circle cx="1685.5" cy="410.1" r="10.5"/><circle cx="1688.9" cy="414.2" r="10.5"/><circle cx="1692.3" cy="418" r="10.5"/><circle cx="1695.7" cy="421.9" r="10.5"/><circle cx="1699.1" cy="427.2" r="10.5"/><circle cx="1702.6" cy="432.5" r="10.5"/><circle cx="1706" cy="437.9" r="10.5"/><circle cx="1709.5" cy="443.2" r="10.5"/><circle cx="1712.9" cy="448.5" r="10.5"/><circle cx="1716.3" cy="454.6" r="10.5"/><circle cx="1719.8" cy="460.6" r="10.5"/><circle cx="1723.2" cy="466.7" r="10.5"/><circle cx="1726.6" cy="472.5" r="10.5"/><circle cx="1730.1" cy="478.3" r="10.5"/><circle cx="1733.5" cy="484.1" r="10.5"/><circle cx="1737" cy="489.9" r="10.5"/><circle cx="1740.4" cy="495.7" r="10.5"/><circle cx="1743.8" cy="500.1" r="10.5"/><circle cx="1747.1" cy="504.5" r="10.5"/><circle cx="1750.5" cy="509" r="10.5"/><circle cx="1753.8" cy="513.4" r="10.5"/><circle cx="1757.2" cy="517.8" r="10.5"/><circle cx="1760.6" cy="522.3" r="10.5"/><circle cx="1764" cy="526.8" r="10.5"/><circle cx="1767.5" cy="531.4" r="10.5"/><circle cx="1770.9" cy="535.9" r="10.5"/><circle cx="1774.3" cy="540.4" r="10.5"/><circle cx="1777.7" cy="546.4" r="10.5"/><circle cx="1781.2" cy="552.4" r="10.5"/><circle cx="1784.6" cy="558.5" r="10.5"/><circle cx="1788.1" cy="564.5" r="10.5"/><circle cx="1791.5" cy="570.5" r="10.5"/><circle cx="1794.9" cy="575.8" r="10.5"/><circle cx="1798.4" cy="581.1" r="10.5"/><circle cx="1801.8" cy="586.5" r="10.5"/><circle cx="1805.3" cy="591.8" r="10.5"/><circle cx="1808.7" cy="597.1" r="10.5"/><circle cx="1812.1" cy="602.6" r="10.5"/><circle cx="1815.6" cy="608.1" r="10.5"/><circle cx="1819" cy="613.7" r="10.5"/><circle cx="1822.5" cy="619.2" r="10.5"/><circle cx="1825.9" cy="624.7" r="10.5"/><circle cx="1829.3" cy="629.8" r="10.5"/><circle cx="1832.7" cy="634.8" r="10.5"/><circle cx="1836.2" cy="639.9" r="10.5"/><circle cx="1839.6" cy="644.9" r="10.5"/><circle cx="1843" cy="650" r="10.5"/><circle cx="1846.4" cy="655.8" r="10.5"/><circle cx="1849.9" cy="661.7" r="10.5"/><circle cx="1853.3" cy="667.5" r="10.5"/><circle cx="1856.8" cy="673.4" r="10.5"/><circle cx="1860.2" cy="679.2" r="10.5"/><circle cx="1863.5" cy="684.5" r="10.5"/><circle cx="1866.7" cy="689.7" r="10.5"/><circle cx="1870" cy="695" r="10.5"/><circle cx="1873.7" cy="700.5" r="10.5"/><circle cx="1877.4" cy="706" r="10.5"/><circle cx="1881.2" cy="712" r="10.5"/><circle cx="1885" cy="718" r="10.5"/><circle cx="1889" cy="723" r="10.5"/><circle cx="1893" cy="728" r="10.5"/><circle cx="1897" cy="729.7" r="10.5"/><circle cx="1901" cy="731.3" r="10.5"/><circle cx="1905" cy="733" r="10.5"/><circle cx="1908.8" cy="733.5" r="10.5"/><circle cx="1912.5" cy="734" r="10.5"/><circle cx="1916.2" cy="734.5" r="10.5"/><circle cx="1920" cy="735" r="10.5"/><circle cx="1923.4" cy="735.2" r="10.5"/><circle cx="1926.8" cy="735.4" r="10.5"/><circle cx="1930.2" cy="735.6" r="10.5"/><circle cx="1933.6" cy="735.8" r="10.5"/><circle cx="1937" cy="736" r="10.5"/><circle cx="1531" cy="360" r="10.5"/><circle cx="1578" cy="341" r="10.5"/>
</g>
<line x1="1579.3" y1="730" x2="1579.3" y2="207.5" stroke="#bfbfbf" stroke-width="13" stroke-dasharray="20.7 8"/>
<line x1="1677.2" y1="730" x2="1677.2" y2="207.5" stroke="#bfbfbf" stroke-width="6.5" stroke-dasharray="6 7.93"/>
<line x1="1690.9" y1="730" x2="1690.9" y2="207.5" stroke="#bfbfbf" stroke-width="6.5" stroke-dasharray="6 7.93"/>
<line x1="1782.3" y1="730" x2="1782.3" y2="207.5" stroke="#bfbfbf" stroke-width="6.5" stroke-dasharray="35.2 8.2 5.8 8.2"/>
<line x1="1800.6" y1="730" x2="1800.6" y2="207.5" stroke="#bfbfbf" stroke-width="6.5" stroke-dasharray="35.2 8.2 5.8 8.2"/>
</g>
<rect x="1508.0" y="207.5" width="731.5" height="522.5" fill="none" stroke="#000" stroke-width="5.5"/>
<line x1="1508" y1="730.0" x2="1508" y2="750.0" stroke="#000" stroke-width="4.7"/><line x1="1599.4" y1="730.0" x2="1599.4" y2="741.0" stroke="#000" stroke-width="4.3"/><line x1="1690.9" y1="730.0" x2="1690.9" y2="750.0" stroke="#000" stroke-width="4.7"/><line x1="1782.3" y1="730.0" x2="1782.3" y2="741.0" stroke="#000" stroke-width="4.3"/><line x1="1873.8" y1="730.0" x2="1873.8" y2="750.0" stroke="#000" stroke-width="4.7"/><line x1="1965.2" y1="730.0" x2="1965.2" y2="741.0" stroke="#000" stroke-width="4.3"/><line x1="2056.6" y1="730.0" x2="2056.6" y2="750.0" stroke="#000" stroke-width="4.7"/><line x1="2148.1" y1="730.0" x2="2148.1" y2="741.0" stroke="#000" stroke-width="4.3"/><line x1="2239.5" y1="730.0" x2="2239.5" y2="750.0" stroke="#000" stroke-width="4.7"/><line x1="1508.0" y1="730" x2="1488.0" y2="730" stroke="#000" stroke-width="4.7"/><line x1="1508.0" y1="599.4" x2="1488.0" y2="599.4" stroke="#000" stroke-width="4.7"/><line x1="1508.0" y1="468.8" x2="1488.0" y2="468.8" stroke="#000" stroke-width="4.7"/><line x1="1508.0" y1="338.1" x2="1488.0" y2="338.1" stroke="#000" stroke-width="4.7"/><line x1="1508.0" y1="207.5" x2="1488.0" y2="207.5" stroke="#000" stroke-width="4.7"/>
<g class="cm" font-size="80"><text x="1468.4" y="758.8" text-anchor="end">0.00</text><text x="1468.4" y="628.2" text-anchor="end">0.02</text><text x="1468.4" y="497.6" text-anchor="end">0.04</text><text x="1468.4" y="366.9" text-anchor="end">0.06</text><text x="1468.4" y="236.3" text-anchor="end">0.08</text></g>
<text class="cm" font-size="80" font-style="italic" transform="translate(1671.55,175.294) scale(0.864,0.994)">y</text>
<text class="cm" font-size="80"  transform="translate(1725.235,182.38) scale(1.416,1.04)">=</text>
<text class="cm" font-size="80"  transform="translate(1809.363,174.493) scale(1.012,1.007)">045</text>
<text class="cm" font-size="80"  transform="translate(1952.501,175.5) scale(1.05,0.974)">mm</text>
<text class="cm" font-size="80" font-style="italic" transform="translate(1286.7,558.7) rotate(-90) translate(-1.193,0) scale(1.193,1.034)">Z</text>
<text class="cm" font-size="80"  transform="translate(1286.7,558.7) rotate(-90) translate(84.5,6.867) scale(0.567,1.203)">[</text>
<text class="cm" font-size="80"  transform="translate(1286.7,558.7) rotate(-90) translate(102.122,9.825) scale(1.295,1.125)">−</text>
<text class="cm" font-size="80"  transform="translate(1286.7,558.7) rotate(-90) translate(163.683,6.867) scale(0.572,1.203)">]</text>
<g clip-path="url(#c11)">
<path d="M1478,1121 L1509.5,1121 L1649.5,1121 L1661.5,1124 L1673.5,1131 L1685.5,1142 L1701.5,1168 L1721.5,1198 L1741.5,1222 L1763.8,1247 L1787.9,1278 L1805,1318 L1823.9,1356 L1844.5,1395 L1865.1,1428 L1885.7,1442 L1909.8,1446.5 L1931.5,1447.4 L2269.5,1447.4" fill="none" stroke="#ff0000" stroke-width="14" stroke-linejoin="round" stroke-linecap="butt"/>
<path d="M1478,1121 L1508,1121 L1648,1121 L1660,1124 L1672,1131 L1684,1142 L1700,1168 L1720,1198 L1740,1222 L1762.3,1247 L1786.4,1278 L1803.5,1318 L1822.4,1356 L1843,1395 L1863.6,1428 L1884.2,1442 L1908.3,1446.5 L1930,1447.4 L2269.5,1447.4" fill="none" stroke="#0000ff" stroke-width="14" stroke-linejoin="round" stroke-linecap="butt"/>
<g fill="none" stroke="#000" stroke-width="7">
<circle cx="1500" cy="1080.5" r="10.5"/><circle cx="1503.4" cy="1080.5" r="10.5"/><circle cx="1506.9" cy="1080.5" r="10.5"/><circle cx="1510.3" cy="1080.5" r="10.5"/><circle cx="1514.3" cy="1079.8" r="10.5"/><circle cx="1518.3" cy="1079.1" r="10.5"/><circle cx="1522.3" cy="1078.4" r="10.5"/><circle cx="1526.2" cy="1078.1" r="10.5"/><circle cx="1530" cy="1077.8" r="10.5"/><circle cx="1533.9" cy="1077.4" r="10.5"/><circle cx="1537.8" cy="1077.1" r="10.5"/><circle cx="1541.2" cy="1076.8" r="10.5"/><circle cx="1544.7" cy="1076.5" r="10.5"/><circle cx="1548.1" cy="1076.3" r="10.5"/><circle cx="1551.5" cy="1076" r="10.5"/><circle cx="1554.9" cy="1074.1" r="10.5"/><circle cx="1558.3" cy="1072.2" r="10.5"/><circle cx="1561.8" cy="1070.3" r="10.5"/><circle cx="1565.2" cy="1068.4" r="10.5"/><circle cx="1568.7" cy="1066.1" r="10.5"/><circle cx="1572.1" cy="1063.8" r="10.5"/><circle cx="1575.5" cy="1065.3" r="10.5"/><circle cx="1579" cy="1066.8" r="10.5"/><circle cx="1582.5" cy="1068.3" r="10.5"/><circle cx="1585.9" cy="1069.8" r="10.5"/><circle cx="1589.3" cy="1071.1" r="10.5"/><circle cx="1592.8" cy="1072.3" r="10.5"/><circle cx="1596.2" cy="1073.6" r="10.5"/><circle cx="1599.6" cy="1074.9" r="10.5"/><circle cx="1603.6" cy="1078.2" r="10.5"/><circle cx="1607.6" cy="1081.4" r="10.5"/><circle cx="1611.6" cy="1084.7" r="10.5"/><circle cx="1614.5" cy="1086.3" r="10.5"/><circle cx="1617.3" cy="1087.9" r="10.5"/><circle cx="1620.2" cy="1089.5" r="10.5"/><circle cx="1623.6" cy="1094.4" r="10.5"/><circle cx="1627.1" cy="1099.2" r="10.5"/><circle cx="1630.5" cy="1104.1" r="10.5"/><circle cx="1633.9" cy="1107.1" r="10.5"/><circle cx="1637.4" cy="1110.1" r="10.5"/><circle cx="1640.8" cy="1113.1" r="10.5"/><circle cx="1644.2" cy="1115.7" r="10.5"/><circle cx="1647.7" cy="1118.2" r="10.5"/><circle cx="1651.1" cy="1120.8" r="10.5"/><circle cx="1654.5" cy="1121.2" r="10.5"/><circle cx="1658" cy="1121.6" r="10.5"/><circle cx="1661.4" cy="1122" r="10.5"/><circle cx="1664.8" cy="1125.2" r="10.5"/><circle cx="1668.3" cy="1128.4" r="10.5"/><circle cx="1671.7" cy="1131.6" r="10.5"/><circle cx="1675.1" cy="1135.3" r="10.5"/><circle cx="1678.6" cy="1139.1" r="10.5"/><circle cx="1682" cy="1142.8" r="10.5"/><circle cx="1685.4" cy="1147.7" r="10.5"/><circle cx="1688.9" cy="1152.5" r="10.5"/><circle cx="1692.3" cy="1157.4" r="10.5"/><circle cx="1695.7" cy="1164" r="10.5"/><circle cx="1699.2" cy="1170.5" r="10.5"/><circle cx="1702.6" cy="1177.1" r="10.5"/><circle cx="1706.6" cy="1182.3" r="10.5"/><circle cx="1710.6" cy="1187.4" r="10.5"/><circle cx="1714.6" cy="1192.6" r="10.5"/><circle cx="1717.5" cy="1198.6" r="10.5"/><circle cx="1720.3" cy="1204.6" r="10.5"/><circle cx="1723.2" cy="1210.6" r="10.5"/><circle cx="1726.6" cy="1213.8" r="10.5"/><circle cx="1730.1" cy="1217" r="10.5"/><circle cx="1733.5" cy="1220.3" r="10.5"/><circle cx="1736.9" cy="1223.5" r="10.5"/><circle cx="1740.2" cy="1227.1" r="10.5"/><circle cx="1743.6" cy="1230.7" r="10.5"/><circle cx="1747" cy="1234.2" r="10.5"/><circle cx="1750.3" cy="1237.8" r="10.5"/><circle cx="1754.3" cy="1244.7" r="10.5"/><circle cx="1758.3" cy="1251.5" r="10.5"/><circle cx="1762.3" cy="1258.4" r="10.5"/><circle cx="1766.2" cy="1264.8" r="10.5"/><circle cx="1770" cy="1271.2" r="10.5"/><circle cx="1773.9" cy="1277.7" r="10.5"/><circle cx="1777.8" cy="1284.1" r="10.5"/><circle cx="1781.2" cy="1289.4" r="10.5"/><circle cx="1784.7" cy="1294.6" r="10.5"/><circle cx="1788.1" cy="1299.9" r="10.5"/><circle cx="1791" cy="1305.8" r="10.5"/><circle cx="1793.8" cy="1311.7" r="10.5"/><circle cx="1796.7" cy="1317.6" r="10.5"/><circle cx="1799.5" cy="1324.5" r="10.5"/><circle cx="1802.4" cy="1331.3" r="10.5"/><circle cx="1805.2" cy="1338.2" r="10.5"/><circle cx="1808.6" cy="1343.6" r="10.5"/><circle cx="1812.1" cy="1349.1" r="10.5"/><circle cx="1815.5" cy="1354.5" r="10.5"/><circle cx="1819" cy="1362" r="10.5"/><circle cx="1822.4" cy="1369.4" r="10.5"/><circle cx="1825.9" cy="1376.9" r="10.5"/><circle cx="1829.3" cy="1384.1" r="10.5"/><circle cx="1832.8" cy="1391.2" r="10.5"/><circle cx="1836.2" cy="1398.4" r="10.5"/><circle cx="1839.6" cy="1406.1" r="10.5"/><circle cx="1843" cy="1413.8" r="10.5"/><circle cx="1846.5" cy="1420.9" r="10.5"/><circle cx="1850" cy="1428" r="10.5"/><circle cx="1854" cy="1434" r="10.5"/><circle cx="1858" cy="1440" r="10.5"/><circle cx="1862" cy="1445" r="10.5"/><circle cx="1866" cy="1450" r="10.5"/><circle cx="1572" cy="1060" r="10.5"/><circle cx="1617" cy="1077" r="10.5"/>
</g>
<line x1="1579.3" y1="1447.4" x2="1579.3" y2="924.9" stroke="#bfbfbf" stroke-width="13" stroke-dasharray="20.7 8"/>
<line x1="1677.2" y1="1447.4" x2="1677.2" y2="924.9" stroke="#bfbfbf" stroke-width="6.5" stroke-dasharray="6 7.93"/>
<line x1="1690.9" y1="1447.4" x2="1690.9" y2="924.9" stroke="#bfbfbf" stroke-width="6.5" stroke-dasharray="6 7.93"/>
<line x1="1782.3" y1="1447.4" x2="1782.3" y2="924.9" stroke="#bfbfbf" stroke-width="6.5" stroke-dasharray="35.2 8.2 5.8 8.2"/>
<line x1="1800.6" y1="1447.4" x2="1800.6" y2="924.9" stroke="#bfbfbf" stroke-width="6.5" stroke-dasharray="35.2 8.2 5.8 8.2"/>
</g>
<rect x="1508.0" y="924.9" width="731.5" height="522.5000000000001" fill="none" stroke="#000" stroke-width="5.5"/>
<line x1="1508" y1="1447.4" x2="1508" y2="1467.4" stroke="#000" stroke-width="4.7"/><line x1="1599.4" y1="1447.4" x2="1599.4" y2="1458.4" stroke="#000" stroke-width="4.3"/><line x1="1690.9" y1="1447.4" x2="1690.9" y2="1467.4" stroke="#000" stroke-width="4.7"/><line x1="1782.3" y1="1447.4" x2="1782.3" y2="1458.4" stroke="#000" stroke-width="4.3"/><line x1="1873.8" y1="1447.4" x2="1873.8" y2="1467.4" stroke="#000" stroke-width="4.7"/><line x1="1965.2" y1="1447.4" x2="1965.2" y2="1458.4" stroke="#000" stroke-width="4.3"/><line x1="2056.6" y1="1447.4" x2="2056.6" y2="1467.4" stroke="#000" stroke-width="4.7"/><line x1="2148.1" y1="1447.4" x2="2148.1" y2="1458.4" stroke="#000" stroke-width="4.3"/><line x1="2239.5" y1="1447.4" x2="2239.5" y2="1467.4" stroke="#000" stroke-width="4.7"/><line x1="1508.0" y1="1447.4" x2="1488.0" y2="1447.4" stroke="#000" stroke-width="4.7"/><line x1="1508.0" y1="1316.8" x2="1488.0" y2="1316.8" stroke="#000" stroke-width="4.7"/><line x1="1508.0" y1="1186.2" x2="1488.0" y2="1186.2" stroke="#000" stroke-width="4.7"/><line x1="1508.0" y1="1055.5" x2="1488.0" y2="1055.5" stroke="#000" stroke-width="4.7"/><line x1="1508.0" y1="924.9" x2="1488.0" y2="924.9" stroke="#000" stroke-width="4.7"/>
<g class="cm" font-size="80"><text x="1468.4" y="1476.2" text-anchor="end">0.00</text><text x="1468.4" y="1345.6" text-anchor="end">0.02</text><text x="1468.4" y="1215" text-anchor="end">0.04</text><text x="1468.4" y="1084.3" text-anchor="end">0.06</text><text x="1468.4" y="953.7" text-anchor="end">0.08</text></g>
<text class="cm" font-size="80" font-style="italic" transform="translate(1671.55,892.694) scale(0.864,0.994)">y</text>
<text class="cm" font-size="80"  transform="translate(1725.235,899.78) scale(1.416,1.04)">=</text>
<text class="cm" font-size="80"  transform="translate(1809.363,891.893) scale(1.012,1.007)">035</text>
<text class="cm" font-size="80"  transform="translate(1952.501,892.9) scale(1.05,0.974)">mm</text>
<text class="cm" font-size="80" font-style="italic" transform="translate(1286.7,1276.1) rotate(-90) translate(-1.193,0) scale(1.193,1.034)">Z</text>
<text class="cm" font-size="80"  transform="translate(1286.7,1276.1) rotate(-90) translate(84.5,6.867) scale(0.567,1.203)">[</text>
<text class="cm" font-size="80"  transform="translate(1286.7,1276.1) rotate(-90) translate(102.122,9.825) scale(1.295,1.125)">−</text>
<text class="cm" font-size="80"  transform="translate(1286.7,1276.1) rotate(-90) translate(163.683,6.867) scale(0.572,1.203)">]</text>
<g clip-path="url(#c12)">
<path d="M1478,1838.4 L1509,1838.4 L1661,1838.4 L1669,1843 L1678,1852 L1685,1866 L1693,1885 L1701,1902 L1716,1922 L1731,1935 L1750.3,1947.5 L1758.9,1959.5 L1767.4,1973.2 L1772.6,1992.1 L1782.9,2009.3 L1789.8,2024.7 L1798,2042 L1806,2060 L1813,2078 L1819,2095 L1829.5,2114 L1837,2129.5 L1846,2145 L1856,2156 L1868,2162.5 L1881,2164.8 L2269.5,2164.8" fill="none" stroke="#ff0000" stroke-width="14" stroke-linejoin="round" stroke-linecap="butt"/>
<path d="M1478,1838.4 L1508,1838.4 L1660,1838.4 L1668,1843 L1677,1852 L1684,1866 L1692,1885 L1700,1902 L1715,1922 L1730,1935 L1749.3,1947.5 L1757.9,1959.5 L1766.4,1973.2 L1771.6,1992.1 L1781.9,2009.3 L1788.8,2024.7 L1797,2042 L1805,2060 L1812,2078 L1818,2095 L1828.5,2114 L1836,2129.5 L1845,2145 L1855,2156 L1867,2162.5 L1880,2164.8 L2269.5,2164.8" fill="none" stroke="#0000ff" stroke-width="14" stroke-linejoin="round" stroke-linecap="butt"/>
<g fill="none" stroke="#000" stroke-width="7">
<circle cx="1500" cy="1810.7" r="10.5"/><circle cx="1503.4" cy="1810.7" r="10.5"/><circle cx="1506.9" cy="1810.7" r="10.5"/><circle cx="1510.3" cy="1810.7" r="10.5"/><circle cx="1514.3" cy="1810.7" r="10.5"/><circle cx="1518.3" cy="1810.7" r="10.5"/><circle cx="1522.3" cy="1810.7" r="10.5"/><circle cx="1526.3" cy="1810.1" r="10.5"/><circle cx="1530.3" cy="1809.4" r="10.5"/><circle cx="1534.3" cy="1808.8" r="10.5"/><circle cx="1537.8" cy="1808.3" r="10.5"/><circle cx="1541.2" cy="1807.8" r="10.5"/><circle cx="1544.6" cy="1807.2" r="10.5"/><circle cx="1548.1" cy="1806.7" r="10.5"/><circle cx="1551.5" cy="1805.3" r="10.5"/><circle cx="1554.9" cy="1804" r="10.5"/><circle cx="1558.4" cy="1802.6" r="10.5"/><circle cx="1561.8" cy="1801.2" r="10.5"/><circle cx="1565.2" cy="1799.6" r="10.5"/><circle cx="1568.7" cy="1798" r="10.5"/><circle cx="1572.1" cy="1796.4" r="10.5"/><circle cx="1575.5" cy="1799.8" r="10.5"/><circle cx="1579" cy="1803.1" r="10.5"/><circle cx="1582.5" cy="1806.5" r="10.5"/><circle cx="1585.9" cy="1809.8" r="10.5"/><circle cx="1589.3" cy="1813.2" r="10.5"/><circle cx="1592.8" cy="1816.7" r="10.5"/><circle cx="1596.2" cy="1820.1" r="10.5"/><circle cx="1599.6" cy="1823.9" r="10.5"/><circle cx="1603.1" cy="1827.8" r="10.5"/><circle cx="1606.5" cy="1831.6" r="10.5"/><circle cx="1609.9" cy="1833.1" r="10.5"/><circle cx="1613.3" cy="1834.6" r="10.5"/><circle cx="1616.8" cy="1836.1" r="10.5"/><circle cx="1620.2" cy="1837.6" r="10.5"/><circle cx="1623.6" cy="1838.5" r="10.5"/><circle cx="1627.1" cy="1839.4" r="10.5"/><circle cx="1630.5" cy="1840.4" r="10.5"/><circle cx="1634" cy="1841.3" r="10.5"/><circle cx="1637.4" cy="1842.2" r="10.5"/><circle cx="1641.4" cy="1842.6" r="10.5"/><circle cx="1645.4" cy="1843" r="10.5"/><circle cx="1649.4" cy="1843.4" r="10.5"/><circle cx="1652.8" cy="1845.8" r="10.5"/><circle cx="1656.2" cy="1848.2" r="10.5"/><circle cx="1659.7" cy="1850.7" r="10.5"/><circle cx="1663.1" cy="1853.1" r="10.5"/><circle cx="1666" cy="1857.6" r="10.5"/><circle cx="1668.8" cy="1862" r="10.5"/><circle cx="1671.7" cy="1866.5" r="10.5"/><circle cx="1675.2" cy="1870.8" r="10.5"/><circle cx="1678.6" cy="1875" r="10.5"/><circle cx="1682" cy="1880.2" r="10.5"/><circle cx="1685.4" cy="1885.3" r="10.5"/><circle cx="1688.8" cy="1891.3" r="10.5"/><circle cx="1692.3" cy="1897.4" r="10.5"/><circle cx="1695.8" cy="1905.1" r="10.5"/><circle cx="1699.2" cy="1912.8" r="10.5"/><circle cx="1702.6" cy="1916.9" r="10.5"/><circle cx="1706.1" cy="1920.9" r="10.5"/><circle cx="1709.5" cy="1925" r="10.5"/><circle cx="1712.9" cy="1929.1" r="10.5"/><circle cx="1716.3" cy="1933.2" r="10.5"/><circle cx="1719.8" cy="1937.2" r="10.5"/><circle cx="1722.7" cy="1938.8" r="10.5"/><circle cx="1725.5" cy="1940.4" r="10.5"/><circle cx="1728.4" cy="1942" r="10.5"/><circle cx="1731.2" cy="1944.9" r="10.5"/><circle cx="1734.1" cy="1947.7" r="10.5"/><circle cx="1736.9" cy="1950.6" r="10.5"/><circle cx="1740.8" cy="1954.5" r="10.5"/><circle cx="1744.7" cy="1958.5" r="10.5"/><circle cx="1748.6" cy="1962.4" r="10.5"/><circle cx="1751.5" cy="1967.4" r="10.5"/><circle cx="1754.3" cy="1972.5" r="10.5"/><circle cx="1757.2" cy="1977.5" r="10.5"/><circle cx="1760.6" cy="1983.8" r="10.5"/><circle cx="1764.1" cy="1990.1" r="10.5"/><circle cx="1767.5" cy="1996.4" r="10.5"/><circle cx="1771.5" cy="2004.1" r="10.5"/><circle cx="1775.5" cy="2011.9" r="10.5"/><circle cx="1779.5" cy="2019.6" r="10.5"/><circle cx="1782.9" cy="2025.9" r="10.5"/><circle cx="1786.4" cy="2032.2" r="10.5"/><circle cx="1789.8" cy="2038.5" r="10.5"/><circle cx="1792.7" cy="2045.6" r="10.5"/><circle cx="1795.5" cy="2052.8" r="10.5"/><circle cx="1798.4" cy="2059.9" r="10.5"/><circle cx="1801.8" cy="2068.1" r="10.5"/><circle cx="1805.2" cy="2076.2" r="10.5"/><circle cx="1808.1" cy="2082.5" r="10.5"/><circle cx="1810.9" cy="2088.8" r="10.5"/><circle cx="1813.8" cy="2095.1" r="10.5"/><circle cx="1816.7" cy="2101.1" r="10.5"/><circle cx="1819.5" cy="2107.2" r="10.5"/><circle cx="1822.4" cy="2113.2" r="10.5"/><circle cx="1825.8" cy="2121.3" r="10.5"/><circle cx="1829.3" cy="2129.5" r="10.5"/><circle cx="1832.8" cy="2136.3" r="10.5"/><circle cx="1836.2" cy="2143.2" r="10.5"/><circle cx="1839.6" cy="2147.6" r="10.5"/><circle cx="1843" cy="2152" r="10.5"/><circle cx="1846.5" cy="2156" r="10.5"/><circle cx="1850" cy="2160" r="10.5"/><circle cx="1853.5" cy="2163.5" r="10.5"/><circle cx="1857" cy="2167" r="10.5"/><circle cx="1569" cy="1792" r="10.5"/>
</g>
<line x1="1579.3" y1="2164.8" x2="1579.3" y2="1642.3" stroke="#bfbfbf" stroke-width="13" stroke-dasharray="20.7 8"/>
<line x1="1677.2" y1="2164.8" x2="1677.2" y2="1642.3" stroke="#bfbfbf" stroke-width="6.5" stroke-dasharray="6 7.93"/>
<line x1="1690.9" y1="2164.8" x2="1690.9" y2="1642.3" stroke="#bfbfbf" stroke-width="6.5" stroke-dasharray="6 7.93"/>
<line x1="1782.3" y1="2164.8" x2="1782.3" y2="1642.3" stroke="#bfbfbf" stroke-width="6.5" stroke-dasharray="35.2 8.2 5.8 8.2"/>
<line x1="1800.6" y1="2164.8" x2="1800.6" y2="1642.3" stroke="#bfbfbf" stroke-width="6.5" stroke-dasharray="35.2 8.2 5.8 8.2"/>
</g>
<rect x="1508.0" y="1642.3" width="731.5" height="522.5000000000002" fill="none" stroke="#000" stroke-width="5.5"/>
<line x1="1508" y1="2164.8" x2="1508" y2="2184.8" stroke="#000" stroke-width="4.7"/><line x1="1599.4" y1="2164.8" x2="1599.4" y2="2175.8" stroke="#000" stroke-width="4.3"/><line x1="1690.9" y1="2164.8" x2="1690.9" y2="2184.8" stroke="#000" stroke-width="4.7"/><line x1="1782.3" y1="2164.8" x2="1782.3" y2="2175.8" stroke="#000" stroke-width="4.3"/><line x1="1873.8" y1="2164.8" x2="1873.8" y2="2184.8" stroke="#000" stroke-width="4.7"/><line x1="1965.2" y1="2164.8" x2="1965.2" y2="2175.8" stroke="#000" stroke-width="4.3"/><line x1="2056.6" y1="2164.8" x2="2056.6" y2="2184.8" stroke="#000" stroke-width="4.7"/><line x1="2148.1" y1="2164.8" x2="2148.1" y2="2175.8" stroke="#000" stroke-width="4.3"/><line x1="2239.5" y1="2164.8" x2="2239.5" y2="2184.8" stroke="#000" stroke-width="4.7"/><line x1="1508.0" y1="2164.8" x2="1488.0" y2="2164.8" stroke="#000" stroke-width="4.7"/><line x1="1508.0" y1="2034.2" x2="1488.0" y2="2034.2" stroke="#000" stroke-width="4.7"/><line x1="1508.0" y1="1903.6" x2="1488.0" y2="1903.6" stroke="#000" stroke-width="4.7"/><line x1="1508.0" y1="1772.9" x2="1488.0" y2="1772.9" stroke="#000" stroke-width="4.7"/><line x1="1508.0" y1="1642.3" x2="1488.0" y2="1642.3" stroke="#000" stroke-width="4.7"/>
<g class="cm" font-size="80"><text x="1468.4" y="2193.6" text-anchor="end">0.00</text><text x="1468.4" y="2063" text-anchor="end">0.02</text><text x="1468.4" y="1932.4" text-anchor="end">0.04</text><text x="1468.4" y="1801.7" text-anchor="end">0.06</text><text x="1468.4" y="1671.1" text-anchor="end">0.08</text></g>
<text class="cm" font-size="80" font-style="italic" transform="translate(1671.55,1610.094) scale(0.864,0.994)">y</text>
<text class="cm" font-size="80"  transform="translate(1725.235,1617.18) scale(1.416,1.04)">=</text>
<text class="cm" font-size="80"  transform="translate(1809.363,1609.293) scale(1.012,1.007)">025</text>
<text class="cm" font-size="80"  transform="translate(1952.501,1610.3) scale(1.05,0.974)">mm</text>
<text class="cm" font-size="80" font-style="italic" transform="translate(1286.7,1993.5) rotate(-90) translate(-1.193,0) scale(1.193,1.034)">Z</text>
<text class="cm" font-size="80"  transform="translate(1286.7,1993.5) rotate(-90) translate(84.5,6.867) scale(0.567,1.203)">[</text>
<text class="cm" font-size="80"  transform="translate(1286.7,1993.5) rotate(-90) translate(102.122,9.825) scale(1.295,1.125)">−</text>
<text class="cm" font-size="80"  transform="translate(1286.7,1993.5) rotate(-90) translate(163.683,6.867) scale(0.572,1.203)">]</text>
<g clip-path="url(#c13)">
<path d="M1478,2555.9 L1509,2555.9 L1651,2556 L1665.7,2559 L1672.6,2567.6 L1679.4,2586.5 L1687,2606 L1693,2622 L1704,2643 L1716,2653 L1726,2657 L1738,2660 L1750,2664 L1767,2690 L1779,2717 L1788,2750 L1800,2790 L1809,2817 L1817,2842 L1826,2861 L1841,2875 L1853,2881 L1871,2882.2 L2269.5,2882.2" fill="none" stroke="#ff0000" stroke-width="14" stroke-linejoin="round" stroke-linecap="butt"/>
<path d="M1478,2555.9 L1508,2555.9 L1650,2556 L1664.7,2559 L1671.6,2567.6 L1678.4,2586.5 L1686,2606 L1692,2622 L1703,2643 L1715,2653 L1725,2657 L1737,2660 L1749,2664 L1766,2690 L1778,2717 L1787,2750 L1799,2790 L1808,2817 L1816,2842 L1825,2861 L1840,2875 L1852,2881 L1870,2882.2 L2269.5,2882.2" fill="none" stroke="#0000ff" stroke-width="14" stroke-linejoin="round" stroke-linecap="butt"/>
<g fill="none" stroke="#000" stroke-width="7">
<circle cx="1500" cy="2551.7" r="10.5"/><circle cx="1503.4" cy="2551.7" r="10.5"/><circle cx="1506.9" cy="2551.7" r="10.5"/><circle cx="1510.3" cy="2551.7" r="10.5"/><circle cx="1514.3" cy="2552.8" r="10.5"/><circle cx="1518.3" cy="2554" r="10.5"/><circle cx="1522.3" cy="2555.1" r="10.5"/><circle cx="1525.2" cy="2554.7" r="10.5"/><circle cx="1528" cy="2554.4" r="10.5"/><circle cx="1530.9" cy="2554" r="10.5"/><circle cx="1534.3" cy="2552.6" r="10.5"/><circle cx="1537.8" cy="2551.3" r="10.5"/><circle cx="1541.2" cy="2549.9" r="10.5"/><circle cx="1544.6" cy="2549.6" r="10.5"/><circle cx="1548.1" cy="2549.2" r="10.5"/><circle cx="1551.5" cy="2548.9" r="10.5"/><circle cx="1554.9" cy="2547.8" r="10.5"/><circle cx="1558.3" cy="2546.7" r="10.5"/><circle cx="1561.8" cy="2545.5" r="10.5"/><circle cx="1565.2" cy="2544.4" r="10.5"/><circle cx="1568.7" cy="2543.7" r="10.5"/><circle cx="1572.1" cy="2543" r="10.5"/><circle cx="1575.5" cy="2544.7" r="10.5"/><circle cx="1579" cy="2546.4" r="10.5"/><circle cx="1582.5" cy="2548.2" r="10.5"/><circle cx="1585.9" cy="2549.9" r="10.5"/><circle cx="1589.3" cy="2551.8" r="10.5"/><circle cx="1592.7" cy="2553.7" r="10.5"/><circle cx="1596.2" cy="2555.5" r="10.5"/><circle cx="1599.6" cy="2557.4" r="10.5"/><circle cx="1603" cy="2559.3" r="10.5"/><circle cx="1606.4" cy="2559.1" r="10.5"/><circle cx="1609.9" cy="2559" r="10.5"/><circle cx="1613.3" cy="2558.8" r="10.5"/><circle cx="1616.8" cy="2558.7" r="10.5"/><circle cx="1620.2" cy="2558.5" r="10.5"/><circle cx="1623.6" cy="2558.7" r="10.5"/><circle cx="1627.1" cy="2558.8" r="10.5"/><circle cx="1630.5" cy="2559" r="10.5"/><circle cx="1634" cy="2559.1" r="10.5"/><circle cx="1637.4" cy="2559.3" r="10.5"/><circle cx="1640.8" cy="2560.4" r="10.5"/><circle cx="1644.2" cy="2561.6" r="10.5"/><circle cx="1647.7" cy="2562.7" r="10.5"/><circle cx="1651.1" cy="2563.9" r="10.5"/><circle cx="1654.5" cy="2565" r="10.5"/><circle cx="1657.9" cy="2569.4" r="10.5"/><circle cx="1661.4" cy="2573.8" r="10.5"/><circle cx="1664.8" cy="2578.2" r="10.5"/><circle cx="1668.2" cy="2583.2" r="10.5"/><circle cx="1671.7" cy="2588.2" r="10.5"/><circle cx="1675.2" cy="2595.1" r="10.5"/><circle cx="1678.6" cy="2601.9" r="10.5"/><circle cx="1682" cy="2609.7" r="10.5"/><circle cx="1685.4" cy="2617.4" r="10.5"/><circle cx="1688.8" cy="2622.9" r="10.5"/><circle cx="1692.3" cy="2628.5" r="10.5"/><circle cx="1695.7" cy="2635.4" r="10.5"/><circle cx="1699.2" cy="2642.2" r="10.5"/><circle cx="1702.6" cy="2649.1" r="10.5"/><circle cx="1706.6" cy="2651.7" r="10.5"/><circle cx="1710.6" cy="2654.3" r="10.5"/><circle cx="1714.6" cy="2656.9" r="10.5"/><circle cx="1717.5" cy="2657.5" r="10.5"/><circle cx="1720.3" cy="2658" r="10.5"/><circle cx="1723.2" cy="2658.6" r="10.5"/><circle cx="1726.6" cy="2660.2" r="10.5"/><circle cx="1730.1" cy="2661.8" r="10.5"/><circle cx="1733.5" cy="2663.3" r="10.5"/><circle cx="1736.9" cy="2664.9" r="10.5"/><circle cx="1740.2" cy="2669.6" r="10.5"/><circle cx="1743.6" cy="2674.3" r="10.5"/><circle cx="1746.9" cy="2679" r="10.5"/><circle cx="1750.3" cy="2685" r="10.5"/><circle cx="1753.7" cy="2691" r="10.5"/><circle cx="1757.2" cy="2698.1" r="10.5"/><circle cx="1760.6" cy="2705.2" r="10.5"/><circle cx="1764" cy="2713.4" r="10.5"/><circle cx="1767.5" cy="2721.6" r="10.5"/><circle cx="1770.9" cy="2729.8" r="10.5"/><circle cx="1774.3" cy="2737.9" r="10.5"/><circle cx="1776.9" cy="2744.1" r="10.5"/><circle cx="1779.5" cy="2750.2" r="10.5"/><circle cx="1783" cy="2758.2" r="10.5"/><circle cx="1786.4" cy="2766.2" r="10.5"/><circle cx="1789" cy="2776.1" r="10.5"/><circle cx="1791.5" cy="2786" r="10.5"/><circle cx="1794.1" cy="2794.6" r="10.5"/><circle cx="1796.7" cy="2803.1" r="10.5"/><circle cx="1800.1" cy="2813.4" r="10.5"/><circle cx="1802.7" cy="2818.2" r="10.5"/><circle cx="1805.2" cy="2822.9" r="10.5"/><circle cx="1808.7" cy="2834.9" r="10.5"/><circle cx="1811" cy="2845" r="10.5"/><circle cx="1813" cy="2855" r="10.5"/><circle cx="1815" cy="2864" r="10.5"/><circle cx="1818" cy="2872" r="10.5"/><circle cx="1822" cy="2878" r="10.5"/><circle cx="1825" cy="2879.5" r="10.5"/><circle cx="1828" cy="2881" r="10.5"/><circle cx="1832" cy="2882" r="10.5"/><circle cx="1570" cy="2537" r="10.5"/>
</g>
<line x1="1579.3" y1="2882.2" x2="1579.3" y2="2359.7" stroke="#bfbfbf" stroke-width="13" stroke-dasharray="20.7 8"/>
<line x1="1677.2" y1="2882.2" x2="1677.2" y2="2359.7" stroke="#bfbfbf" stroke-width="6.5" stroke-dasharray="6 7.93"/>
<line x1="1690.9" y1="2882.2" x2="1690.9" y2="2359.7" stroke="#bfbfbf" stroke-width="6.5" stroke-dasharray="6 7.93"/>
<line x1="1782.3" y1="2882.2" x2="1782.3" y2="2359.7" stroke="#bfbfbf" stroke-width="6.5" stroke-dasharray="35.2 8.2 5.8 8.2"/>
<line x1="1800.6" y1="2882.2" x2="1800.6" y2="2359.7" stroke="#bfbfbf" stroke-width="6.5" stroke-dasharray="35.2 8.2 5.8 8.2"/>
</g>
<rect x="1508.0" y="2359.7" width="731.5" height="522.5" fill="none" stroke="#000" stroke-width="5.5"/>
<line x1="1508" y1="2882.2" x2="1508" y2="2902.2" stroke="#000" stroke-width="4.7"/><line x1="1599.4" y1="2882.2" x2="1599.4" y2="2893.2" stroke="#000" stroke-width="4.3"/><line x1="1690.9" y1="2882.2" x2="1690.9" y2="2902.2" stroke="#000" stroke-width="4.7"/><line x1="1782.3" y1="2882.2" x2="1782.3" y2="2893.2" stroke="#000" stroke-width="4.3"/><line x1="1873.8" y1="2882.2" x2="1873.8" y2="2902.2" stroke="#000" stroke-width="4.7"/><line x1="1965.2" y1="2882.2" x2="1965.2" y2="2893.2" stroke="#000" stroke-width="4.3"/><line x1="2056.6" y1="2882.2" x2="2056.6" y2="2902.2" stroke="#000" stroke-width="4.7"/><line x1="2148.1" y1="2882.2" x2="2148.1" y2="2893.2" stroke="#000" stroke-width="4.3"/><line x1="2239.5" y1="2882.2" x2="2239.5" y2="2902.2" stroke="#000" stroke-width="4.7"/><line x1="1508.0" y1="2882.2" x2="1488.0" y2="2882.2" stroke="#000" stroke-width="4.7"/><line x1="1508.0" y1="2751.6" x2="1488.0" y2="2751.6" stroke="#000" stroke-width="4.7"/><line x1="1508.0" y1="2620.9" x2="1488.0" y2="2620.9" stroke="#000" stroke-width="4.7"/><line x1="1508.0" y1="2490.3" x2="1488.0" y2="2490.3" stroke="#000" stroke-width="4.7"/><line x1="1508.0" y1="2359.7" x2="1488.0" y2="2359.7" stroke="#000" stroke-width="4.7"/>
<g class="cm" font-size="80"><text x="1468.4" y="2911" text-anchor="end">0.00</text><text x="1468.4" y="2780.4" text-anchor="end">0.02</text><text x="1468.4" y="2649.8" text-anchor="end">0.04</text><text x="1468.4" y="2519.1" text-anchor="end">0.06</text><text x="1468.4" y="2388.5" text-anchor="end">0.08</text></g>
<text class="cm" font-size="80" font-style="italic" transform="translate(1671.55,2327.494) scale(0.864,0.994)">y</text>
<text class="cm" font-size="80"  transform="translate(1725.235,2334.58) scale(1.416,1.04)">=</text>
<text class="cm" font-size="80"  transform="translate(1809.363,2326.693) scale(1.012,1.007)">015</text>
<text class="cm" font-size="80"  transform="translate(1952.501,2327.7) scale(1.05,0.974)">mm</text>
<text class="cm" font-size="80" font-style="italic" transform="translate(1286.7,2710.9) rotate(-90) translate(-1.193,0) scale(1.193,1.034)">Z</text>
<text class="cm" font-size="80"  transform="translate(1286.7,2710.9) rotate(-90) translate(84.5,6.867) scale(0.567,1.203)">[</text>
<text class="cm" font-size="80"  transform="translate(1286.7,2710.9) rotate(-90) translate(102.122,9.825) scale(1.295,1.125)">−</text>
<text class="cm" font-size="80"  transform="translate(1286.7,2710.9) rotate(-90) translate(163.683,6.867) scale(0.572,1.203)">]</text>
<g clip-path="url(#c14)">
<path d="M1478,3272.9 L1509,3272.9 L1651,3272.9 L1661,3280 L1669,3295 L1676,3320 L1681,3340 L1687,3356 L1695,3365 L1721,3372 L1741,3376 L1753,3384 L1759.5,3384.3 L1773.2,3413.5 L1778.3,3434.1 L1785.2,3470.2 L1790.4,3501.1 L1798.9,3538.9 L1805.8,3564.6 L1813,3580 L1823,3592 L1836,3598 L1851,3599.6 L2269.5,3599.6" fill="none" stroke="#ff0000" stroke-width="14" stroke-linejoin="round" stroke-linecap="butt"/>
<path d="M1478,3272.9 L1508,3272.9 L1650,3272.9 L1660,3280 L1668,3295 L1675,3320 L1680,3340 L1686,3356 L1694,3365 L1720,3372 L1740,3376 L1752,3384 L1758.5,3384.3 L1772.2,3413.5 L1777.3,3434.1 L1784.2,3470.2 L1789.4,3501.1 L1797.9,3538.9 L1804.8,3564.6 L1812,3580 L1822,3592 L1835,3598 L1850,3599.6 L2269.5,3599.6" fill="none" stroke="#0000ff" stroke-width="14" stroke-linejoin="round" stroke-linecap="butt"/>
<g fill="none" stroke="#000" stroke-width="7">
<circle cx="1500" cy="3265.2" r="10.5"/><circle cx="1503.4" cy="3265.2" r="10.5"/><circle cx="1506.9" cy="3265.2" r="10.5"/><circle cx="1510.3" cy="3265.2" r="10.5"/><circle cx="1514.3" cy="3266.8" r="10.5"/><circle cx="1518.3" cy="3268.3" r="10.5"/><circle cx="1522.3" cy="3269.9" r="10.5"/><circle cx="1526.3" cy="3271.5" r="10.5"/><circle cx="1530.3" cy="3273.1" r="10.5"/><circle cx="1534.3" cy="3274.7" r="10.5"/><circle cx="1538.2" cy="3275.8" r="10.5"/><circle cx="1542" cy="3277" r="10.5"/><circle cx="1545.9" cy="3278.2" r="10.5"/><circle cx="1549.8" cy="3279.3" r="10.5"/><circle cx="1553.2" cy="3277" r="10.5"/><circle cx="1556.7" cy="3274.8" r="10.5"/><circle cx="1560.1" cy="3272.5" r="10.5"/><circle cx="1563.5" cy="3270.9" r="10.5"/><circle cx="1567" cy="3269.4" r="10.5"/><circle cx="1570.4" cy="3267.8" r="10.5"/><circle cx="1574.3" cy="3268.4" r="10.5"/><circle cx="1578.2" cy="3268.9" r="10.5"/><circle cx="1582" cy="3269.5" r="10.5"/><circle cx="1585.9" cy="3270.1" r="10.5"/><circle cx="1589.3" cy="3270.2" r="10.5"/><circle cx="1592.8" cy="3270.2" r="10.5"/><circle cx="1596.2" cy="3270.3" r="10.5"/><circle cx="1599.6" cy="3270.4" r="10.5"/><circle cx="1603" cy="3269.8" r="10.5"/><circle cx="1606.4" cy="3269.2" r="10.5"/><circle cx="1609.9" cy="3268.6" r="10.5"/><circle cx="1613.3" cy="3268" r="10.5"/><circle cx="1617.2" cy="3269.4" r="10.5"/><circle cx="1621" cy="3270.9" r="10.5"/><circle cx="1624.9" cy="3272.4" r="10.5"/><circle cx="1628.8" cy="3273.8" r="10.5"/><circle cx="1632.8" cy="3274.2" r="10.5"/><circle cx="1636.8" cy="3274.6" r="10.5"/><circle cx="1640.8" cy="3275" r="10.5"/><circle cx="1644.2" cy="3275.1" r="10.5"/><circle cx="1647.7" cy="3275.2" r="10.5"/><circle cx="1651.1" cy="3275.4" r="10.5"/><circle cx="1654.5" cy="3275.5" r="10.5"/><circle cx="1657.4" cy="3279" r="10.5"/><circle cx="1660.2" cy="3282.4" r="10.5"/><circle cx="1663.1" cy="3285.9" r="10.5"/><circle cx="1666.1" cy="3291.1" r="10.5"/><circle cx="1669.1" cy="3296.2" r="10.5"/><circle cx="1671.7" cy="3304.7" r="10.5"/><circle cx="1673.4" cy="3313.3" r="10.5"/><circle cx="1675.1" cy="3322.8" r="10.5"/><circle cx="1678.6" cy="3335.6" r="10.5"/><circle cx="1680.8" cy="3341.6" r="10.5"/><circle cx="1682.9" cy="3347.7" r="10.5"/><circle cx="1685.1" cy="3353.7" r="10.5"/><circle cx="1687.2" cy="3359.7" r="10.5"/><circle cx="1690.6" cy="3364.8" r="10.5"/><circle cx="1694" cy="3370" r="10.5"/><circle cx="1698" cy="3371.1" r="10.5"/><circle cx="1702" cy="3372.3" r="10.5"/><circle cx="1706" cy="3373.4" r="10.5"/><circle cx="1709.4" cy="3373.9" r="10.5"/><circle cx="1712.9" cy="3374.4" r="10.5"/><circle cx="1716.3" cy="3375" r="10.5"/><circle cx="1719.8" cy="3375.5" r="10.5"/><circle cx="1723.2" cy="3376" r="10.5"/><circle cx="1726.6" cy="3375.3" r="10.5"/><circle cx="1730.1" cy="3374.7" r="10.5"/><circle cx="1733.5" cy="3374.1" r="10.5"/><circle cx="1736.9" cy="3373.4" r="10.5"/><circle cx="1739.6" cy="3374.9" r="10.5"/><circle cx="1742.3" cy="3376.5" r="10.5"/><circle cx="1745" cy="3378" r="10.5"/><circle cx="1566" cy="3260" r="10.5"/><circle cx="1615" cy="3262" r="10.5"/><circle cx="1658" cy="3266" r="10.5"/><circle cx="1739" cy="3366" r="10.5"/><circle cx="1750" cy="3388" r="10.5"/><circle cx="1757.2" cy="3401.5" r="10.5"/><circle cx="1761" cy="3410" r="10.5"/><circle cx="1764" cy="3418.7" r="10.5"/><circle cx="1765.8" cy="3432.4" r="10.5"/><circle cx="1769.2" cy="3446.2" r="10.5"/><circle cx="1771.8" cy="3461.6" r="10.5"/><circle cx="1774.3" cy="3473.6" r="10.5"/><circle cx="1782.9" cy="3490.8" r="10.5"/><circle cx="1786.4" cy="3514.8" r="10.5"/><circle cx="1791.5" cy="3535.4" r="10.5"/><circle cx="1793.2" cy="3554.3" r="10.5"/><circle cx="1798.4" cy="3571.5" r="10.5"/><circle cx="1803.5" cy="3587" r="10.5"/><circle cx="1808.7" cy="3595.5" r="10.5"/><circle cx="1814" cy="3602" r="10.5"/>
</g>
<line x1="1579.3" y1="3599.6" x2="1579.3" y2="3077.1" stroke="#bfbfbf" stroke-width="13" stroke-dasharray="20.7 8"/>
<line x1="1677.2" y1="3599.6" x2="1677.2" y2="3077.1" stroke="#bfbfbf" stroke-width="6.5" stroke-dasharray="6 7.93"/>
<line x1="1690.9" y1="3599.6" x2="1690.9" y2="3077.1" stroke="#bfbfbf" stroke-width="6.5" stroke-dasharray="6 7.93"/>
<line x1="1782.3" y1="3599.6" x2="1782.3" y2="3077.1" stroke="#bfbfbf" stroke-width="6.5" stroke-dasharray="35.2 8.2 5.8 8.2"/>
<line x1="1800.6" y1="3599.6" x2="1800.6" y2="3077.1" stroke="#bfbfbf" stroke-width="6.5" stroke-dasharray="35.2 8.2 5.8 8.2"/>
</g>
<rect x="1508.0" y="3077.1" width="731.5" height="522.5" fill="none" stroke="#000" stroke-width="5.5"/>
<line x1="1508" y1="3599.6" x2="1508" y2="3619.6" stroke="#000" stroke-width="4.7"/><line x1="1599.4" y1="3599.6" x2="1599.4" y2="3610.6" stroke="#000" stroke-width="4.3"/><line x1="1690.9" y1="3599.6" x2="1690.9" y2="3619.6" stroke="#000" stroke-width="4.7"/><line x1="1782.3" y1="3599.6" x2="1782.3" y2="3610.6" stroke="#000" stroke-width="4.3"/><line x1="1873.8" y1="3599.6" x2="1873.8" y2="3619.6" stroke="#000" stroke-width="4.7"/><line x1="1965.2" y1="3599.6" x2="1965.2" y2="3610.6" stroke="#000" stroke-width="4.3"/><line x1="2056.6" y1="3599.6" x2="2056.6" y2="3619.6" stroke="#000" stroke-width="4.7"/><line x1="2148.1" y1="3599.6" x2="2148.1" y2="3610.6" stroke="#000" stroke-width="4.3"/><line x1="2239.5" y1="3599.6" x2="2239.5" y2="3619.6" stroke="#000" stroke-width="4.7"/><line x1="1508.0" y1="3599.6" x2="1488.0" y2="3599.6" stroke="#000" stroke-width="4.7"/><line x1="1508.0" y1="3469" x2="1488.0" y2="3469" stroke="#000" stroke-width="4.7"/><line x1="1508.0" y1="3338.3" x2="1488.0" y2="3338.3" stroke="#000" stroke-width="4.7"/><line x1="1508.0" y1="3207.7" x2="1488.0" y2="3207.7" stroke="#000" stroke-width="4.7"/><line x1="1508.0" y1="3077.1" x2="1488.0" y2="3077.1" stroke="#000" stroke-width="4.7"/>
<g class="cm" font-size="80"><text x="1468.4" y="3628.4" text-anchor="end">0.00</text><text x="1468.4" y="3497.8" text-anchor="end">0.02</text><text x="1468.4" y="3367.2" text-anchor="end">0.04</text><text x="1468.4" y="3236.5" text-anchor="end">0.06</text><text x="1468.4" y="3105.9" text-anchor="end">0.08</text></g>
<text class="cm" font-size="80" font-style="italic" transform="translate(1671.55,3044.894) scale(0.864,0.994)">y</text>
<text class="cm" font-size="80"  transform="translate(1725.235,3051.98) scale(1.416,1.04)">=</text>
<text class="cm" font-size="80"  transform="translate(1809.363,3044.093) scale(1.012,1.007)">005</text>
<text class="cm" font-size="80"  transform="translate(1952.501,3045.1) scale(1.05,0.974)">mm</text>
<text class="cm" font-size="80" font-style="italic" transform="translate(1286.7,3428.3) rotate(-90) translate(-1.193,0) scale(1.193,1.034)">Z</text>
<text class="cm" font-size="80"  transform="translate(1286.7,3428.3) rotate(-90) translate(84.5,6.867) scale(0.567,1.203)">[</text>
<text class="cm" font-size="80"  transform="translate(1286.7,3428.3) rotate(-90) translate(102.122,9.825) scale(1.295,1.125)">−</text>
<text class="cm" font-size="80"  transform="translate(1286.7,3428.3) rotate(-90) translate(163.683,6.867) scale(0.572,1.203)">]</text>
<text class="cm" font-size="80" font-weight="bold" transform="translate(1846.947,88.9) scale(1.013,1.049)">Z</text>
<g class="cm" font-size="80"><text x="1508" y="3696.1" text-anchor="middle">0</text><text x="1690.9" y="3696.1" text-anchor="middle">20</text><text x="1873.8" y="3696.1" text-anchor="middle">40</text><text x="2056.6" y="3696.1" text-anchor="middle">60</text><text x="2239.5" y="3696.1" text-anchor="middle">80</text></g>
<text class="cm" font-size="80" font-style="italic" transform="translate(1765.761,3795.6) scale(1.146,0.989)">r</text>
<text class="cm" font-size="80"  transform="translate(1809.233,3800.617) scale(0.644,1.189)">[</text>
<text class="cm" font-size="80"  transform="translate(1827.502,3795.6) scale(1.049,0.989)">mm</text>
<text class="cm" font-size="80"  transform="translate(1958.667,3800.617) scale(0.644,1.189)">]</text>
<rect x="1901.0" y="3103.9" width="311.4" height="247" rx="10" fill="#fff" stroke="#d6d6d6" stroke-width="5.5"/>
<line x1="1914.8" y1="3144.9" x2="2038.0" y2="3144.9" stroke="#ff0000" stroke-width="14"/>
<line x1="1914.8" y1="3221.7" x2="2038.0" y2="3221.7" stroke="#0000ff" stroke-width="14"/>
<circle cx="1976.8" cy="3299" r="10.5" fill="none" stroke="#000" stroke-width="7"/>
<text class="ss" font-size="54"  transform="translate(2073.665,3163.9) scale(1.012,1.046)">CFM</text>
<text class="ss" font-size="54"  transform="translate(2074.004,3241.4) scale(0.999,1.046)">FAM</text>
<text class="ss" font-size="54"  transform="translate(2073.995,3318.658) scale(1.001,1.058)">Exp</text>
<text class="cm" font-size="80"  transform="translate(668.92,3973.559) scale(0.995,1.067)">(</text>
<text class="cm" font-size="80" font-weight="bold" transform="translate(695.925,3973.585) scale(1.025,1.015)">a</text>
<text class="cm" font-size="80"  transform="translate(736.87,3973.307) scale(1.01,1.082)">)</text>
<text class="cm" font-size="80"  transform="translate(1830.92,3973.559) scale(0.995,1.067)">(</text>
<text class="cm" font-size="80" font-weight="bold" transform="translate(1857.778,3974.025) scale(1.122,1.075)">b</text>
<text class="cm" font-size="80"  transform="translate(1909.115,3973.307) scale(0.995,1.082)">)</text>
</svg></body></html>
